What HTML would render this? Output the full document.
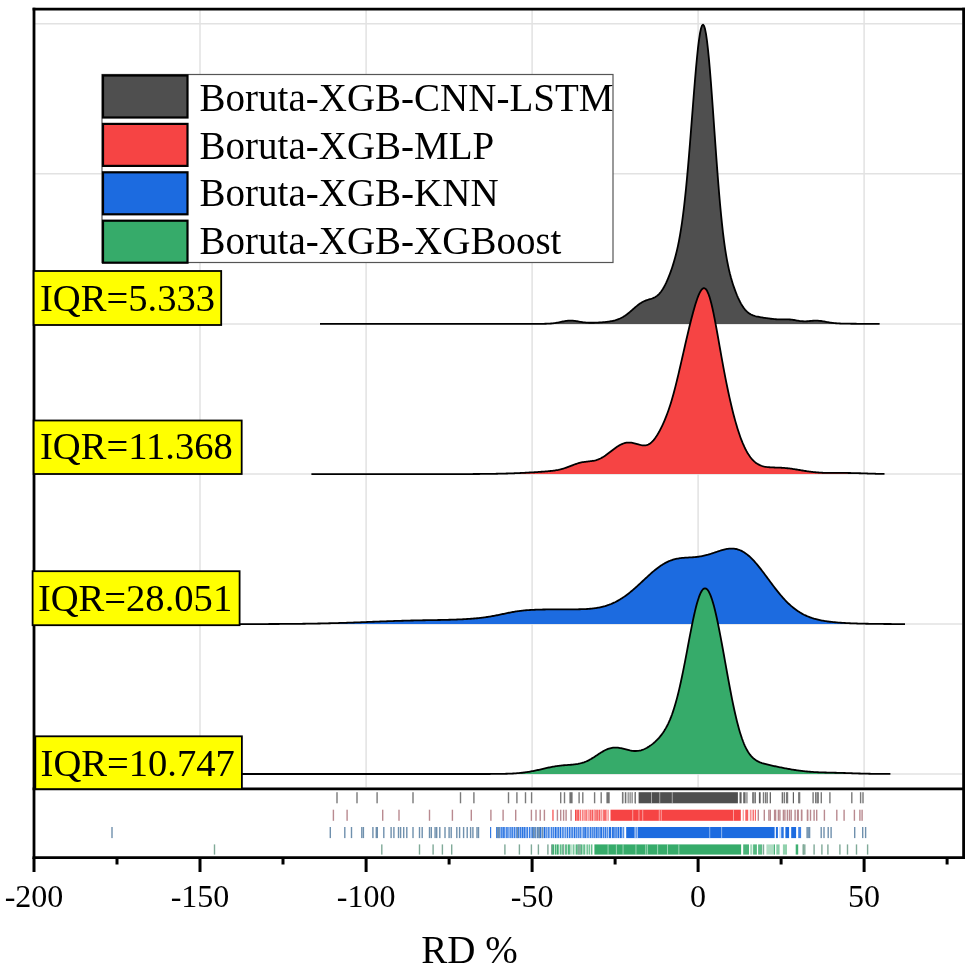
<!DOCTYPE html>
<html><head><meta charset="utf-8"><style>
html,body{margin:0;padding:0;background:#fff;}
svg{display:block;will-change:transform;}
text{font-family:"Liberation Serif", serif;}
</style></head><body>
<svg width="968" height="972" viewBox="0 0 968 972">
<rect x="0" y="0" width="968" height="972" fill="#fff"/>
<g stroke="#e2e2e2" stroke-width="1.5"><line x1="35" y1="23.8" x2="962" y2="23.8"/><line x1="35" y1="173.7" x2="962" y2="173.7"/><line x1="35" y1="324.0" x2="962" y2="324.0"/><line x1="35" y1="474.0" x2="962" y2="474.0"/><line x1="35" y1="624.0" x2="962" y2="624.0"/><line x1="35" y1="774.0" x2="962" y2="774.0"/><line x1="200.0" y1="10" x2="200.0" y2="787"/><line x1="366.1" y1="10" x2="366.1" y2="787"/><line x1="532.1" y1="10" x2="532.1" y2="787"/><line x1="698.1" y1="10" x2="698.1" y2="787"/><line x1="864.1" y1="10" x2="864.1" y2="787"/></g>
<path d="M320.0,323.90 L321.0,323.90 L322.0,323.90 L323.0,323.90 L324.0,323.90 L325.0,323.90 L326.0,323.90 L327.0,323.90 L328.0,323.90 L329.0,323.90 L330.0,323.90 L331.0,323.90 L332.0,323.90 L333.0,323.90 L334.0,323.90 L335.0,323.90 L336.0,323.90 L337.0,323.90 L338.0,323.90 L339.0,323.90 L340.0,323.90 L341.0,323.90 L342.0,323.90 L343.0,323.90 L344.0,323.90 L345.0,323.90 L346.0,323.90 L347.0,323.90 L348.0,323.90 L349.0,323.90 L350.0,323.90 L351.0,323.90 L352.0,323.90 L353.0,323.90 L354.0,323.90 L355.0,323.90 L356.0,323.90 L357.0,323.90 L358.0,323.90 L359.0,323.90 L360.0,323.90 L361.0,323.90 L362.0,323.90 L363.0,323.90 L364.0,323.90 L365.0,323.90 L366.0,323.90 L367.0,323.90 L368.0,323.90 L369.0,323.90 L370.0,323.90 L371.0,323.90 L372.0,323.90 L373.0,323.90 L374.0,323.90 L375.0,323.90 L376.0,323.90 L377.0,323.90 L378.0,323.90 L379.0,323.90 L380.0,323.90 L381.0,323.90 L382.0,323.90 L383.0,323.90 L384.0,323.90 L385.0,323.90 L386.0,323.90 L387.0,323.90 L388.0,323.90 L389.0,323.90 L390.0,323.90 L391.0,323.90 L392.0,323.90 L393.0,323.90 L394.0,323.90 L395.0,323.90 L396.0,323.90 L397.0,323.90 L398.0,323.90 L399.0,323.90 L400.0,323.90 L401.0,323.90 L402.0,323.90 L403.0,323.90 L404.0,323.90 L405.0,323.90 L406.0,323.90 L407.0,323.90 L408.0,323.90 L409.0,323.90 L410.0,323.90 L411.0,323.90 L412.0,323.90 L413.0,323.90 L414.0,323.90 L415.0,323.90 L416.0,323.90 L417.0,323.90 L418.0,323.90 L419.0,323.90 L420.0,323.90 L421.0,323.90 L422.0,323.90 L423.0,323.90 L424.0,323.90 L425.0,323.90 L426.0,323.90 L427.0,323.90 L428.0,323.90 L429.0,323.90 L430.0,323.90 L431.0,323.90 L432.0,323.90 L433.0,323.90 L434.0,323.90 L435.0,323.90 L436.0,323.90 L437.0,323.90 L438.0,323.90 L439.0,323.90 L440.0,323.90 L441.0,323.90 L442.0,323.90 L443.0,323.90 L444.0,323.90 L445.0,323.90 L446.0,323.90 L447.0,323.90 L448.0,323.90 L449.0,323.90 L450.0,323.90 L451.0,323.90 L452.0,323.90 L453.0,323.90 L454.0,323.90 L455.0,323.90 L456.0,323.90 L457.0,323.90 L458.0,323.90 L459.0,323.90 L460.0,323.90 L461.0,323.90 L462.0,323.90 L463.0,323.90 L464.0,323.90 L465.0,323.90 L466.0,323.90 L467.0,323.90 L468.0,323.90 L469.0,323.90 L470.0,323.90 L471.0,323.90 L472.0,323.90 L473.0,323.90 L474.0,323.90 L475.0,323.90 L476.0,323.90 L477.0,323.90 L478.0,323.90 L479.0,323.90 L480.0,323.90 L481.0,323.90 L482.0,323.90 L483.0,323.90 L484.0,323.90 L485.0,323.90 L486.0,323.90 L487.0,323.90 L488.0,323.90 L489.0,323.90 L490.0,323.90 L491.0,323.90 L492.0,323.90 L493.0,323.90 L494.0,323.90 L495.0,323.90 L496.0,323.90 L497.0,323.90 L498.0,323.90 L499.0,323.90 L500.0,323.90 L501.0,323.90 L502.0,323.90 L503.0,323.90 L504.0,323.90 L505.0,323.90 L506.0,323.90 L507.0,323.89 L508.0,323.89 L509.0,323.89 L510.0,323.89 L511.0,323.89 L512.0,323.89 L513.0,323.89 L514.0,323.89 L515.0,323.89 L516.0,323.89 L517.0,323.89 L518.0,323.89 L519.0,323.89 L520.0,323.89 L521.0,323.88 L522.0,323.88 L523.0,323.88 L524.0,323.88 L525.0,323.88 L526.0,323.88 L527.0,323.88 L528.0,323.87 L529.0,323.87 L530.0,323.87 L531.0,323.87 L532.0,323.87 L533.0,323.86 L534.0,323.86 L535.0,323.86 L536.0,323.85 L537.0,323.85 L538.0,323.85 L539.0,323.84 L540.0,323.83 L541.0,323.83 L542.0,323.81 L543.0,323.80 L544.0,323.79 L545.0,323.77 L546.0,323.74 L547.0,323.71 L548.0,323.67 L549.0,323.62 L550.0,323.56 L551.0,323.48 L552.0,323.40 L553.0,323.30 L554.0,323.18 L555.0,323.04 L556.0,322.89 L557.0,322.72 L558.0,322.53 L559.0,322.34 L560.0,322.13 L561.0,321.92 L562.0,321.70 L563.0,321.50 L564.0,321.30 L565.0,321.11 L566.0,320.95 L567.0,320.82 L568.0,320.71 L569.0,320.64 L570.0,320.61 L571.0,320.61 L572.0,320.65 L573.0,320.72 L574.0,320.82 L575.0,320.95 L576.0,321.10 L577.0,321.26 L578.0,321.43 L579.0,321.61 L580.0,321.78 L581.0,321.95 L582.0,322.10 L583.0,322.25 L584.0,322.37 L585.0,322.48 L586.0,322.57 L587.0,322.64 L588.0,322.70 L589.0,322.74 L590.0,322.76 L591.0,322.77 L592.0,322.77 L593.0,322.75 L594.0,322.73 L595.0,322.70 L596.0,322.66 L597.0,322.61 L598.0,322.56 L599.0,322.51 L600.0,322.44 L601.0,322.37 L602.0,322.30 L603.0,322.22 L604.0,322.13 L605.0,322.04 L606.0,321.93 L607.0,321.82 L608.0,321.69 L609.0,321.55 L610.0,321.39 L611.0,321.22 L612.0,321.03 L613.0,320.81 L614.0,320.57 L615.0,320.31 L616.0,320.01 L617.0,319.69 L618.0,319.32 L619.0,318.93 L620.0,318.49 L621.0,318.01 L622.0,317.49 L623.0,316.93 L624.0,316.32 L625.0,315.67 L626.0,314.98 L627.0,314.25 L628.0,313.48 L629.0,312.68 L630.0,311.85 L631.0,311.00 L632.0,310.14 L633.0,309.26 L634.0,308.39 L635.0,307.53 L636.0,306.67 L637.0,305.85 L638.0,305.05 L639.0,304.30 L640.0,303.59 L641.0,302.92 L642.0,302.32 L643.0,301.76 L644.0,301.26 L645.0,300.81 L646.0,300.42 L647.0,300.06 L648.0,299.73 L649.0,299.42 L650.0,299.12 L651.0,298.82 L652.0,298.49 L653.0,298.11 L654.0,297.68 L655.0,297.18 L656.0,296.58 L657.0,295.88 L658.0,295.05 L659.0,294.08 L660.0,292.98 L661.0,291.72 L662.0,290.31 L663.0,288.74 L664.0,287.01 L665.0,285.13 L666.0,283.10 L667.0,280.93 L668.0,278.61 L669.0,276.16 L670.0,273.56 L671.0,270.82 L672.0,267.92 L673.0,264.85 L674.0,261.57 L675.0,258.06 L676.0,254.27 L677.0,250.15 L678.0,245.65 L679.0,240.70 L680.0,235.24 L681.0,229.20 L682.0,222.53 L683.0,215.16 L684.0,207.05 L685.0,198.18 L686.0,188.54 L687.0,178.15 L688.0,167.06 L689.0,155.33 L690.0,143.08 L691.0,130.44 L692.0,117.59 L693.0,104.70 L694.0,92.01 L695.0,79.74 L696.0,68.15 L697.0,57.47 L698.0,47.95 L699.0,39.81 L700.0,33.26 L701.0,28.47 L702.0,25.57 L703.0,24.66 L704.0,25.76 L705.0,28.89 L706.0,33.97 L707.0,40.90 L708.0,49.54 L709.0,59.69 L710.0,71.14 L711.0,83.65 L712.0,96.96 L713.0,110.81 L714.0,124.94 L715.0,139.10 L716.0,153.07 L717.0,166.66 L718.0,179.68 L719.0,192.00 L720.0,203.53 L721.0,214.19 L722.0,223.96 L723.0,232.83 L724.0,240.83 L725.0,248.01 L726.0,254.42 L727.0,260.14 L728.0,265.26 L729.0,269.85 L730.0,273.99 L731.0,277.76 L732.0,281.21 L733.0,284.41 L734.0,287.38 L735.0,290.16 L736.0,292.78 L737.0,295.24 L738.0,297.55 L739.0,299.71 L740.0,301.73 L741.0,303.59 L742.0,305.31 L743.0,306.87 L744.0,308.28 L745.0,309.54 L746.0,310.66 L747.0,311.64 L748.0,312.50 L749.0,313.25 L750.0,313.89 L751.0,314.45 L752.0,314.92 L753.0,315.33 L754.0,315.69 L755.0,316.00 L756.0,316.27 L757.0,316.51 L758.0,316.73 L759.0,316.93 L760.0,317.11 L761.0,317.29 L762.0,317.45 L763.0,317.61 L764.0,317.77 L765.0,317.92 L766.0,318.06 L767.0,318.20 L768.0,318.34 L769.0,318.48 L770.0,318.61 L771.0,318.74 L772.0,318.86 L773.0,318.97 L774.0,319.07 L775.0,319.16 L776.0,319.24 L777.0,319.31 L778.0,319.36 L779.0,319.39 L780.0,319.41 L781.0,319.42 L782.0,319.41 L783.0,319.40 L784.0,319.38 L785.0,319.36 L786.0,319.35 L787.0,319.35 L788.0,319.37 L789.0,319.41 L790.0,319.48 L791.0,319.58 L792.0,319.70 L793.0,319.84 L794.0,320.01 L795.0,320.18 L796.0,320.37 L797.0,320.55 L798.0,320.72 L799.0,320.88 L800.0,321.02 L801.0,321.13 L802.0,321.22 L803.0,321.27 L804.0,321.30 L805.0,321.30 L806.0,321.28 L807.0,321.23 L808.0,321.17 L809.0,321.09 L810.0,321.01 L811.0,320.92 L812.0,320.84 L813.0,320.77 L814.0,320.71 L815.0,320.67 L816.0,320.66 L817.0,320.67 L818.0,320.71 L819.0,320.78 L820.0,320.87 L821.0,320.99 L822.0,321.13 L823.0,321.29 L824.0,321.46 L825.0,321.65 L826.0,321.83 L827.0,322.02 L828.0,322.20 L829.0,322.38 L830.0,322.55 L831.0,322.70 L832.0,322.84 L833.0,322.97 L834.0,323.08 L835.0,323.18 L836.0,323.26 L837.0,323.34 L838.0,323.40 L839.0,323.45 L840.0,323.50 L841.0,323.54 L842.0,323.57 L843.0,323.60 L844.0,323.62 L845.0,323.64 L846.0,323.66 L847.0,323.67 L848.0,323.69 L849.0,323.70 L850.0,323.71 L851.0,323.73 L852.0,323.74 L853.0,323.75 L854.0,323.75 L855.0,323.76 L856.0,323.77 L857.0,323.78 L858.0,323.79 L859.0,323.79 L860.0,323.80 L861.0,323.81 L862.0,323.81 L863.0,323.82 L864.0,323.82 L865.0,323.83 L866.0,323.83 L867.0,323.84 L868.0,323.84 L869.0,323.84 L870.0,323.85 L871.0,323.85 L872.0,323.85 L873.0,323.86 L874.0,323.86 L875.0,323.86 L876.0,323.86 L877.0,323.87 L878.0,323.87 L879.0,323.87 L879.6,323.87 L879.6,323.9 L320.0,323.9 Z" fill="#4f4f4f" stroke="none"/>
<path d="M320.0,323.90 L321.0,323.90 L322.0,323.90 L323.0,323.90 L324.0,323.90 L325.0,323.90 L326.0,323.90 L327.0,323.90 L328.0,323.90 L329.0,323.90 L330.0,323.90 L331.0,323.90 L332.0,323.90 L333.0,323.90 L334.0,323.90 L335.0,323.90 L336.0,323.90 L337.0,323.90 L338.0,323.90 L339.0,323.90 L340.0,323.90 L341.0,323.90 L342.0,323.90 L343.0,323.90 L344.0,323.90 L345.0,323.90 L346.0,323.90 L347.0,323.90 L348.0,323.90 L349.0,323.90 L350.0,323.90 L351.0,323.90 L352.0,323.90 L353.0,323.90 L354.0,323.90 L355.0,323.90 L356.0,323.90 L357.0,323.90 L358.0,323.90 L359.0,323.90 L360.0,323.90 L361.0,323.90 L362.0,323.90 L363.0,323.90 L364.0,323.90 L365.0,323.90 L366.0,323.90 L367.0,323.90 L368.0,323.90 L369.0,323.90 L370.0,323.90 L371.0,323.90 L372.0,323.90 L373.0,323.90 L374.0,323.90 L375.0,323.90 L376.0,323.90 L377.0,323.90 L378.0,323.90 L379.0,323.90 L380.0,323.90 L381.0,323.90 L382.0,323.90 L383.0,323.90 L384.0,323.90 L385.0,323.90 L386.0,323.90 L387.0,323.90 L388.0,323.90 L389.0,323.90 L390.0,323.90 L391.0,323.90 L392.0,323.90 L393.0,323.90 L394.0,323.90 L395.0,323.90 L396.0,323.90 L397.0,323.90 L398.0,323.90 L399.0,323.90 L400.0,323.90 L401.0,323.90 L402.0,323.90 L403.0,323.90 L404.0,323.90 L405.0,323.90 L406.0,323.90 L407.0,323.90 L408.0,323.90 L409.0,323.90 L410.0,323.90 L411.0,323.90 L412.0,323.90 L413.0,323.90 L414.0,323.90 L415.0,323.90 L416.0,323.90 L417.0,323.90 L418.0,323.90 L419.0,323.90 L420.0,323.90 L421.0,323.90 L422.0,323.90 L423.0,323.90 L424.0,323.90 L425.0,323.90 L426.0,323.90 L427.0,323.90 L428.0,323.90 L429.0,323.90 L430.0,323.90 L431.0,323.90 L432.0,323.90 L433.0,323.90 L434.0,323.90 L435.0,323.90 L436.0,323.90 L437.0,323.90 L438.0,323.90 L439.0,323.90 L440.0,323.90 L441.0,323.90 L442.0,323.90 L443.0,323.90 L444.0,323.90 L445.0,323.90 L446.0,323.90 L447.0,323.90 L448.0,323.90 L449.0,323.90 L450.0,323.90 L451.0,323.90 L452.0,323.90 L453.0,323.90 L454.0,323.90 L455.0,323.90 L456.0,323.90 L457.0,323.90 L458.0,323.90 L459.0,323.90 L460.0,323.90 L461.0,323.90 L462.0,323.90 L463.0,323.90 L464.0,323.90 L465.0,323.90 L466.0,323.90 L467.0,323.90 L468.0,323.90 L469.0,323.90 L470.0,323.90 L471.0,323.90 L472.0,323.90 L473.0,323.90 L474.0,323.90 L475.0,323.90 L476.0,323.90 L477.0,323.90 L478.0,323.90 L479.0,323.90 L480.0,323.90 L481.0,323.90 L482.0,323.90 L483.0,323.90 L484.0,323.90 L485.0,323.90 L486.0,323.90 L487.0,323.90 L488.0,323.90 L489.0,323.90 L490.0,323.90 L491.0,323.90 L492.0,323.90 L493.0,323.90 L494.0,323.90 L495.0,323.90 L496.0,323.90 L497.0,323.90 L498.0,323.90 L499.0,323.90 L500.0,323.90 L501.0,323.90 L502.0,323.90 L503.0,323.90 L504.0,323.90 L505.0,323.90 L506.0,323.90 L507.0,323.89 L508.0,323.89 L509.0,323.89 L510.0,323.89 L511.0,323.89 L512.0,323.89 L513.0,323.89 L514.0,323.89 L515.0,323.89 L516.0,323.89 L517.0,323.89 L518.0,323.89 L519.0,323.89 L520.0,323.89 L521.0,323.88 L522.0,323.88 L523.0,323.88 L524.0,323.88 L525.0,323.88 L526.0,323.88 L527.0,323.88 L528.0,323.87 L529.0,323.87 L530.0,323.87 L531.0,323.87 L532.0,323.87 L533.0,323.86 L534.0,323.86 L535.0,323.86 L536.0,323.85 L537.0,323.85 L538.0,323.85 L539.0,323.84 L540.0,323.83 L541.0,323.83 L542.0,323.81 L543.0,323.80 L544.0,323.79 L545.0,323.77 L546.0,323.74 L547.0,323.71 L548.0,323.67 L549.0,323.62 L550.0,323.56 L551.0,323.48 L552.0,323.40 L553.0,323.30 L554.0,323.18 L555.0,323.04 L556.0,322.89 L557.0,322.72 L558.0,322.53 L559.0,322.34 L560.0,322.13 L561.0,321.92 L562.0,321.70 L563.0,321.50 L564.0,321.30 L565.0,321.11 L566.0,320.95 L567.0,320.82 L568.0,320.71 L569.0,320.64 L570.0,320.61 L571.0,320.61 L572.0,320.65 L573.0,320.72 L574.0,320.82 L575.0,320.95 L576.0,321.10 L577.0,321.26 L578.0,321.43 L579.0,321.61 L580.0,321.78 L581.0,321.95 L582.0,322.10 L583.0,322.25 L584.0,322.37 L585.0,322.48 L586.0,322.57 L587.0,322.64 L588.0,322.70 L589.0,322.74 L590.0,322.76 L591.0,322.77 L592.0,322.77 L593.0,322.75 L594.0,322.73 L595.0,322.70 L596.0,322.66 L597.0,322.61 L598.0,322.56 L599.0,322.51 L600.0,322.44 L601.0,322.37 L602.0,322.30 L603.0,322.22 L604.0,322.13 L605.0,322.04 L606.0,321.93 L607.0,321.82 L608.0,321.69 L609.0,321.55 L610.0,321.39 L611.0,321.22 L612.0,321.03 L613.0,320.81 L614.0,320.57 L615.0,320.31 L616.0,320.01 L617.0,319.69 L618.0,319.32 L619.0,318.93 L620.0,318.49 L621.0,318.01 L622.0,317.49 L623.0,316.93 L624.0,316.32 L625.0,315.67 L626.0,314.98 L627.0,314.25 L628.0,313.48 L629.0,312.68 L630.0,311.85 L631.0,311.00 L632.0,310.14 L633.0,309.26 L634.0,308.39 L635.0,307.53 L636.0,306.67 L637.0,305.85 L638.0,305.05 L639.0,304.30 L640.0,303.59 L641.0,302.92 L642.0,302.32 L643.0,301.76 L644.0,301.26 L645.0,300.81 L646.0,300.42 L647.0,300.06 L648.0,299.73 L649.0,299.42 L650.0,299.12 L651.0,298.82 L652.0,298.49 L653.0,298.11 L654.0,297.68 L655.0,297.18 L656.0,296.58 L657.0,295.88 L658.0,295.05 L659.0,294.08 L660.0,292.98 L661.0,291.72 L662.0,290.31 L663.0,288.74 L664.0,287.01 L665.0,285.13 L666.0,283.10 L667.0,280.93 L668.0,278.61 L669.0,276.16 L670.0,273.56 L671.0,270.82 L672.0,267.92 L673.0,264.85 L674.0,261.57 L675.0,258.06 L676.0,254.27 L677.0,250.15 L678.0,245.65 L679.0,240.70 L680.0,235.24 L681.0,229.20 L682.0,222.53 L683.0,215.16 L684.0,207.05 L685.0,198.18 L686.0,188.54 L687.0,178.15 L688.0,167.06 L689.0,155.33 L690.0,143.08 L691.0,130.44 L692.0,117.59 L693.0,104.70 L694.0,92.01 L695.0,79.74 L696.0,68.15 L697.0,57.47 L698.0,47.95 L699.0,39.81 L700.0,33.26 L701.0,28.47 L702.0,25.57 L703.0,24.66 L704.0,25.76 L705.0,28.89 L706.0,33.97 L707.0,40.90 L708.0,49.54 L709.0,59.69 L710.0,71.14 L711.0,83.65 L712.0,96.96 L713.0,110.81 L714.0,124.94 L715.0,139.10 L716.0,153.07 L717.0,166.66 L718.0,179.68 L719.0,192.00 L720.0,203.53 L721.0,214.19 L722.0,223.96 L723.0,232.83 L724.0,240.83 L725.0,248.01 L726.0,254.42 L727.0,260.14 L728.0,265.26 L729.0,269.85 L730.0,273.99 L731.0,277.76 L732.0,281.21 L733.0,284.41 L734.0,287.38 L735.0,290.16 L736.0,292.78 L737.0,295.24 L738.0,297.55 L739.0,299.71 L740.0,301.73 L741.0,303.59 L742.0,305.31 L743.0,306.87 L744.0,308.28 L745.0,309.54 L746.0,310.66 L747.0,311.64 L748.0,312.50 L749.0,313.25 L750.0,313.89 L751.0,314.45 L752.0,314.92 L753.0,315.33 L754.0,315.69 L755.0,316.00 L756.0,316.27 L757.0,316.51 L758.0,316.73 L759.0,316.93 L760.0,317.11 L761.0,317.29 L762.0,317.45 L763.0,317.61 L764.0,317.77 L765.0,317.92 L766.0,318.06 L767.0,318.20 L768.0,318.34 L769.0,318.48 L770.0,318.61 L771.0,318.74 L772.0,318.86 L773.0,318.97 L774.0,319.07 L775.0,319.16 L776.0,319.24 L777.0,319.31 L778.0,319.36 L779.0,319.39 L780.0,319.41 L781.0,319.42 L782.0,319.41 L783.0,319.40 L784.0,319.38 L785.0,319.36 L786.0,319.35 L787.0,319.35 L788.0,319.37 L789.0,319.41 L790.0,319.48 L791.0,319.58 L792.0,319.70 L793.0,319.84 L794.0,320.01 L795.0,320.18 L796.0,320.37 L797.0,320.55 L798.0,320.72 L799.0,320.88 L800.0,321.02 L801.0,321.13 L802.0,321.22 L803.0,321.27 L804.0,321.30 L805.0,321.30 L806.0,321.28 L807.0,321.23 L808.0,321.17 L809.0,321.09 L810.0,321.01 L811.0,320.92 L812.0,320.84 L813.0,320.77 L814.0,320.71 L815.0,320.67 L816.0,320.66 L817.0,320.67 L818.0,320.71 L819.0,320.78 L820.0,320.87 L821.0,320.99 L822.0,321.13 L823.0,321.29 L824.0,321.46 L825.0,321.65 L826.0,321.83 L827.0,322.02 L828.0,322.20 L829.0,322.38 L830.0,322.55 L831.0,322.70 L832.0,322.84 L833.0,322.97 L834.0,323.08 L835.0,323.18 L836.0,323.26 L837.0,323.34 L838.0,323.40 L839.0,323.45 L840.0,323.50 L841.0,323.54 L842.0,323.57 L843.0,323.60 L844.0,323.62 L845.0,323.64 L846.0,323.66 L847.0,323.67 L848.0,323.69 L849.0,323.70 L850.0,323.71 L851.0,323.73 L852.0,323.74 L853.0,323.75 L854.0,323.75 L855.0,323.76 L856.0,323.77 L857.0,323.78 L858.0,323.79 L859.0,323.79 L860.0,323.80 L861.0,323.81 L862.0,323.81 L863.0,323.82 L864.0,323.82 L865.0,323.83 L866.0,323.83 L867.0,323.84 L868.0,323.84 L869.0,323.84 L870.0,323.85 L871.0,323.85 L872.0,323.85 L873.0,323.86 L874.0,323.86 L875.0,323.86 L876.0,323.86 L877.0,323.87 L878.0,323.87 L879.0,323.87 L879.6,323.87" fill="none" stroke="#000" stroke-width="1.8" stroke-linejoin="round"/>
<path d="M311.4,474.10 L312.4,474.10 L313.4,474.10 L314.4,474.10 L315.4,474.10 L316.4,474.10 L317.4,474.10 L318.4,474.10 L319.4,474.10 L320.4,474.10 L321.4,474.10 L322.4,474.10 L323.4,474.10 L324.4,474.10 L325.4,474.10 L326.4,474.10 L327.4,474.10 L328.4,474.10 L329.4,474.10 L330.4,474.10 L331.4,474.10 L332.4,474.10 L333.4,474.10 L334.4,474.10 L335.4,474.10 L336.4,474.10 L337.4,474.10 L338.4,474.10 L339.4,474.10 L340.4,474.10 L341.4,474.10 L342.4,474.10 L343.4,474.10 L344.4,474.10 L345.4,474.10 L346.4,474.10 L347.4,474.10 L348.4,474.10 L349.4,474.10 L350.4,474.10 L351.4,474.10 L352.4,474.10 L353.4,474.10 L354.4,474.10 L355.4,474.10 L356.4,474.10 L357.4,474.10 L358.4,474.10 L359.4,474.10 L360.4,474.10 L361.4,474.10 L362.4,474.10 L363.4,474.10 L364.4,474.10 L365.4,474.10 L366.4,474.10 L367.4,474.10 L368.4,474.10 L369.4,474.10 L370.4,474.10 L371.4,474.10 L372.4,474.10 L373.4,474.10 L374.4,474.10 L375.4,474.10 L376.4,474.10 L377.4,474.10 L378.4,474.10 L379.4,474.10 L380.4,474.10 L381.4,474.10 L382.4,474.10 L383.4,474.10 L384.4,474.10 L385.4,474.10 L386.4,474.10 L387.4,474.10 L388.4,474.10 L389.4,474.10 L390.4,474.10 L391.4,474.10 L392.4,474.10 L393.4,474.10 L394.4,474.10 L395.4,474.10 L396.4,474.10 L397.4,474.10 L398.4,474.10 L399.4,474.10 L400.4,474.10 L401.4,474.10 L402.4,474.10 L403.4,474.10 L404.4,474.10 L405.4,474.10 L406.4,474.10 L407.4,474.10 L408.4,474.10 L409.4,474.10 L410.4,474.10 L411.4,474.10 L412.4,474.10 L413.4,474.10 L414.4,474.10 L415.4,474.10 L416.4,474.10 L417.4,474.10 L418.4,474.10 L419.4,474.10 L420.4,474.10 L421.4,474.10 L422.4,474.10 L423.4,474.10 L424.4,474.10 L425.4,474.10 L426.4,474.10 L427.4,474.10 L428.4,474.10 L429.4,474.10 L430.4,474.10 L431.4,474.10 L432.4,474.10 L433.4,474.10 L434.4,474.10 L435.4,474.10 L436.4,474.10 L437.4,474.10 L438.4,474.10 L439.4,474.10 L440.4,474.09 L441.4,474.09 L442.4,474.09 L443.4,474.09 L444.4,474.09 L445.4,474.09 L446.4,474.09 L447.4,474.09 L448.4,474.09 L449.4,474.09 L450.4,474.09 L451.4,474.09 L452.4,474.08 L453.4,474.08 L454.4,474.08 L455.4,474.08 L456.4,474.08 L457.4,474.08 L458.4,474.08 L459.4,474.07 L460.4,474.07 L461.4,474.07 L462.4,474.07 L463.4,474.06 L464.4,474.06 L465.4,474.06 L466.4,474.05 L467.4,474.05 L468.4,474.05 L469.4,474.04 L470.4,474.04 L471.4,474.03 L472.4,474.03 L473.4,474.02 L474.4,474.02 L475.4,474.01 L476.4,474.00 L477.4,474.00 L478.4,473.99 L479.4,473.98 L480.4,473.97 L481.4,473.96 L482.4,473.95 L483.4,473.94 L484.4,473.93 L485.4,473.92 L486.4,473.91 L487.4,473.90 L488.4,473.89 L489.4,473.87 L490.4,473.86 L491.4,473.84 L492.4,473.83 L493.4,473.81 L494.4,473.79 L495.4,473.78 L496.4,473.76 L497.4,473.74 L498.4,473.72 L499.4,473.69 L500.4,473.67 L501.4,473.65 L502.4,473.62 L503.4,473.60 L504.4,473.57 L505.4,473.54 L506.4,473.51 L507.4,473.48 L508.4,473.45 L509.4,473.42 L510.4,473.39 L511.4,473.35 L512.4,473.31 L513.4,473.28 L514.4,473.24 L515.4,473.20 L516.4,473.16 L517.4,473.12 L518.4,473.07 L519.4,473.03 L520.4,472.98 L521.4,472.94 L522.4,472.89 L523.4,472.84 L524.4,472.79 L525.4,472.74 L526.4,472.69 L527.4,472.63 L528.4,472.58 L529.4,472.52 L530.4,472.46 L531.4,472.41 L532.4,472.35 L533.4,472.29 L534.4,472.23 L535.4,472.16 L536.4,472.10 L537.4,472.04 L538.4,471.97 L539.4,471.91 L540.4,471.84 L541.4,471.77 L542.4,471.70 L543.4,471.63 L544.4,471.55 L545.4,471.47 L546.4,471.39 L547.4,471.31 L548.4,471.22 L549.4,471.12 L550.4,471.02 L551.4,470.91 L552.4,470.79 L553.4,470.67 L554.4,470.53 L555.4,470.38 L556.4,470.21 L557.4,470.03 L558.4,469.84 L559.4,469.62 L560.4,469.39 L561.4,469.13 L562.4,468.86 L563.4,468.57 L564.4,468.26 L565.4,467.93 L566.4,467.58 L567.4,467.22 L568.4,466.85 L569.4,466.46 L570.4,466.07 L571.4,465.68 L572.4,465.29 L573.4,464.90 L574.4,464.52 L575.4,464.16 L576.4,463.81 L577.4,463.49 L578.4,463.18 L579.4,462.91 L580.4,462.65 L581.4,462.43 L582.4,462.23 L583.4,462.06 L584.4,461.90 L585.4,461.77 L586.4,461.65 L587.4,461.54 L588.4,461.43 L589.4,461.33 L590.4,461.21 L591.4,461.08 L592.4,460.93 L593.4,460.76 L594.4,460.55 L595.4,460.31 L596.4,460.03 L597.4,459.71 L598.4,459.34 L599.4,458.93 L600.4,458.47 L601.4,457.97 L602.4,457.41 L603.4,456.82 L604.4,456.19 L605.4,455.52 L606.4,454.81 L607.4,454.08 L608.4,453.33 L609.4,452.56 L610.4,451.78 L611.4,451.00 L612.4,450.22 L613.4,449.45 L614.4,448.69 L615.4,447.96 L616.4,447.25 L617.4,446.57 L618.4,445.94 L619.4,445.34 L620.4,444.80 L621.4,444.31 L622.4,443.87 L623.4,443.49 L624.4,443.18 L625.4,442.92 L626.4,442.73 L627.4,442.61 L628.4,442.54 L629.4,442.54 L630.4,442.60 L631.4,442.71 L632.4,442.86 L633.4,443.07 L634.4,443.30 L635.4,443.57 L636.4,443.86 L637.4,444.15 L638.4,444.45 L639.4,444.73 L640.4,444.98 L641.4,445.19 L642.4,445.35 L643.4,445.45 L644.4,445.46 L645.4,445.38 L646.4,445.19 L647.4,444.89 L648.4,444.46 L649.4,443.90 L650.4,443.21 L651.4,442.38 L652.4,441.42 L653.4,440.33 L654.4,439.10 L655.4,437.75 L656.4,436.29 L657.4,434.71 L658.4,433.04 L659.4,431.26 L660.4,429.38 L661.4,427.40 L662.4,425.33 L663.4,423.15 L664.4,420.87 L665.4,418.47 L666.4,415.94 L667.4,413.28 L668.4,410.48 L669.4,407.53 L670.4,404.43 L671.4,401.17 L672.4,397.76 L673.4,394.19 L674.4,390.47 L675.4,386.62 L676.4,382.64 L677.4,378.54 L678.4,374.35 L679.4,370.08 L680.4,365.75 L681.4,361.38 L682.4,356.98 L683.4,352.58 L684.4,348.18 L685.4,343.81 L686.4,339.48 L687.4,335.20 L688.4,330.98 L689.4,326.83 L690.4,322.78 L691.4,318.82 L692.4,314.99 L693.4,311.28 L694.4,307.73 L695.4,304.36 L696.4,301.19 L697.4,298.28 L698.4,295.64 L699.4,293.33 L700.4,291.39 L701.4,289.87 L702.4,288.81 L703.4,288.24 L704.4,288.21 L705.4,288.73 L706.4,289.83 L707.4,291.52 L708.4,293.77 L709.4,296.59 L710.4,299.92 L711.4,303.75 L712.4,308.01 L713.4,312.64 L714.4,317.60 L715.4,322.82 L716.4,328.23 L717.4,333.78 L718.4,339.41 L719.4,345.07 L720.4,350.72 L721.4,356.33 L722.4,361.87 L723.4,367.30 L724.4,372.62 L725.4,377.80 L726.4,382.85 L727.4,387.75 L728.4,392.50 L729.4,397.10 L730.4,401.54 L731.4,405.82 L732.4,409.95 L733.4,413.91 L734.4,417.72 L735.4,421.37 L736.4,424.85 L737.4,428.18 L738.4,431.34 L739.4,434.34 L740.4,437.18 L741.4,439.85 L742.4,442.38 L743.4,444.74 L744.4,446.95 L745.4,449.01 L746.4,450.93 L747.4,452.70 L748.4,454.34 L749.4,455.84 L750.4,457.22 L751.4,458.47 L752.4,459.62 L753.4,460.65 L754.4,461.58 L755.4,462.41 L756.4,463.16 L757.4,463.82 L758.4,464.40 L759.4,464.91 L760.4,465.35 L761.4,465.74 L762.4,466.06 L763.4,466.34 L764.4,466.58 L765.4,466.78 L766.4,466.94 L767.4,467.07 L768.4,467.18 L769.4,467.27 L770.4,467.34 L771.4,467.39 L772.4,467.44 L773.4,467.47 L774.4,467.50 L775.4,467.53 L776.4,467.56 L777.4,467.59 L778.4,467.62 L779.4,467.66 L780.4,467.70 L781.4,467.75 L782.4,467.81 L783.4,467.87 L784.4,467.95 L785.4,468.03 L786.4,468.13 L787.4,468.23 L788.4,468.34 L789.4,468.46 L790.4,468.59 L791.4,468.73 L792.4,468.87 L793.4,469.02 L794.4,469.18 L795.4,469.34 L796.4,469.50 L797.4,469.67 L798.4,469.83 L799.4,470.00 L800.4,470.18 L801.4,470.35 L802.4,470.51 L803.4,470.68 L804.4,470.84 L805.4,471.00 L806.4,471.16 L807.4,471.31 L808.4,471.45 L809.4,471.59 L810.4,471.72 L811.4,471.85 L812.4,471.96 L813.4,472.07 L814.4,472.18 L815.4,472.27 L816.4,472.36 L817.4,472.44 L818.4,472.52 L819.4,472.58 L820.4,472.64 L821.4,472.69 L822.4,472.74 L823.4,472.78 L824.4,472.81 L825.4,472.84 L826.4,472.87 L827.4,472.89 L828.4,472.90 L829.4,472.91 L830.4,472.92 L831.4,472.93 L832.4,472.93 L833.4,472.93 L834.4,472.93 L835.4,472.93 L836.4,472.93 L837.4,472.93 L838.4,472.93 L839.4,472.93 L840.4,472.93 L841.4,472.93 L842.4,472.93 L843.4,472.93 L844.4,472.94 L845.4,472.95 L846.4,472.95 L847.4,472.97 L848.4,472.98 L849.4,472.99 L850.4,473.01 L851.4,473.03 L852.4,473.05 L853.4,473.07 L854.4,473.10 L855.4,473.12 L856.4,473.15 L857.4,473.18 L858.4,473.21 L859.4,473.24 L860.4,473.27 L861.4,473.30 L862.4,473.34 L863.4,473.37 L864.4,473.41 L865.4,473.44 L866.4,473.47 L867.4,473.51 L868.4,473.54 L869.4,473.57 L870.4,473.60 L871.4,473.64 L872.4,473.67 L873.4,473.70 L874.4,473.72 L875.4,473.75 L876.4,473.78 L877.4,473.80 L878.4,473.83 L879.4,473.85 L880.4,473.87 L881.4,473.89 L882.4,473.91 L883.4,473.93 L884.4,473.94 L884.5,473.94 L884.5,474.1 L311.4,474.1 Z" fill="#f64444" stroke="none"/>
<path d="M311.4,474.10 L312.4,474.10 L313.4,474.10 L314.4,474.10 L315.4,474.10 L316.4,474.10 L317.4,474.10 L318.4,474.10 L319.4,474.10 L320.4,474.10 L321.4,474.10 L322.4,474.10 L323.4,474.10 L324.4,474.10 L325.4,474.10 L326.4,474.10 L327.4,474.10 L328.4,474.10 L329.4,474.10 L330.4,474.10 L331.4,474.10 L332.4,474.10 L333.4,474.10 L334.4,474.10 L335.4,474.10 L336.4,474.10 L337.4,474.10 L338.4,474.10 L339.4,474.10 L340.4,474.10 L341.4,474.10 L342.4,474.10 L343.4,474.10 L344.4,474.10 L345.4,474.10 L346.4,474.10 L347.4,474.10 L348.4,474.10 L349.4,474.10 L350.4,474.10 L351.4,474.10 L352.4,474.10 L353.4,474.10 L354.4,474.10 L355.4,474.10 L356.4,474.10 L357.4,474.10 L358.4,474.10 L359.4,474.10 L360.4,474.10 L361.4,474.10 L362.4,474.10 L363.4,474.10 L364.4,474.10 L365.4,474.10 L366.4,474.10 L367.4,474.10 L368.4,474.10 L369.4,474.10 L370.4,474.10 L371.4,474.10 L372.4,474.10 L373.4,474.10 L374.4,474.10 L375.4,474.10 L376.4,474.10 L377.4,474.10 L378.4,474.10 L379.4,474.10 L380.4,474.10 L381.4,474.10 L382.4,474.10 L383.4,474.10 L384.4,474.10 L385.4,474.10 L386.4,474.10 L387.4,474.10 L388.4,474.10 L389.4,474.10 L390.4,474.10 L391.4,474.10 L392.4,474.10 L393.4,474.10 L394.4,474.10 L395.4,474.10 L396.4,474.10 L397.4,474.10 L398.4,474.10 L399.4,474.10 L400.4,474.10 L401.4,474.10 L402.4,474.10 L403.4,474.10 L404.4,474.10 L405.4,474.10 L406.4,474.10 L407.4,474.10 L408.4,474.10 L409.4,474.10 L410.4,474.10 L411.4,474.10 L412.4,474.10 L413.4,474.10 L414.4,474.10 L415.4,474.10 L416.4,474.10 L417.4,474.10 L418.4,474.10 L419.4,474.10 L420.4,474.10 L421.4,474.10 L422.4,474.10 L423.4,474.10 L424.4,474.10 L425.4,474.10 L426.4,474.10 L427.4,474.10 L428.4,474.10 L429.4,474.10 L430.4,474.10 L431.4,474.10 L432.4,474.10 L433.4,474.10 L434.4,474.10 L435.4,474.10 L436.4,474.10 L437.4,474.10 L438.4,474.10 L439.4,474.10 L440.4,474.09 L441.4,474.09 L442.4,474.09 L443.4,474.09 L444.4,474.09 L445.4,474.09 L446.4,474.09 L447.4,474.09 L448.4,474.09 L449.4,474.09 L450.4,474.09 L451.4,474.09 L452.4,474.08 L453.4,474.08 L454.4,474.08 L455.4,474.08 L456.4,474.08 L457.4,474.08 L458.4,474.08 L459.4,474.07 L460.4,474.07 L461.4,474.07 L462.4,474.07 L463.4,474.06 L464.4,474.06 L465.4,474.06 L466.4,474.05 L467.4,474.05 L468.4,474.05 L469.4,474.04 L470.4,474.04 L471.4,474.03 L472.4,474.03 L473.4,474.02 L474.4,474.02 L475.4,474.01 L476.4,474.00 L477.4,474.00 L478.4,473.99 L479.4,473.98 L480.4,473.97 L481.4,473.96 L482.4,473.95 L483.4,473.94 L484.4,473.93 L485.4,473.92 L486.4,473.91 L487.4,473.90 L488.4,473.89 L489.4,473.87 L490.4,473.86 L491.4,473.84 L492.4,473.83 L493.4,473.81 L494.4,473.79 L495.4,473.78 L496.4,473.76 L497.4,473.74 L498.4,473.72 L499.4,473.69 L500.4,473.67 L501.4,473.65 L502.4,473.62 L503.4,473.60 L504.4,473.57 L505.4,473.54 L506.4,473.51 L507.4,473.48 L508.4,473.45 L509.4,473.42 L510.4,473.39 L511.4,473.35 L512.4,473.31 L513.4,473.28 L514.4,473.24 L515.4,473.20 L516.4,473.16 L517.4,473.12 L518.4,473.07 L519.4,473.03 L520.4,472.98 L521.4,472.94 L522.4,472.89 L523.4,472.84 L524.4,472.79 L525.4,472.74 L526.4,472.69 L527.4,472.63 L528.4,472.58 L529.4,472.52 L530.4,472.46 L531.4,472.41 L532.4,472.35 L533.4,472.29 L534.4,472.23 L535.4,472.16 L536.4,472.10 L537.4,472.04 L538.4,471.97 L539.4,471.91 L540.4,471.84 L541.4,471.77 L542.4,471.70 L543.4,471.63 L544.4,471.55 L545.4,471.47 L546.4,471.39 L547.4,471.31 L548.4,471.22 L549.4,471.12 L550.4,471.02 L551.4,470.91 L552.4,470.79 L553.4,470.67 L554.4,470.53 L555.4,470.38 L556.4,470.21 L557.4,470.03 L558.4,469.84 L559.4,469.62 L560.4,469.39 L561.4,469.13 L562.4,468.86 L563.4,468.57 L564.4,468.26 L565.4,467.93 L566.4,467.58 L567.4,467.22 L568.4,466.85 L569.4,466.46 L570.4,466.07 L571.4,465.68 L572.4,465.29 L573.4,464.90 L574.4,464.52 L575.4,464.16 L576.4,463.81 L577.4,463.49 L578.4,463.18 L579.4,462.91 L580.4,462.65 L581.4,462.43 L582.4,462.23 L583.4,462.06 L584.4,461.90 L585.4,461.77 L586.4,461.65 L587.4,461.54 L588.4,461.43 L589.4,461.33 L590.4,461.21 L591.4,461.08 L592.4,460.93 L593.4,460.76 L594.4,460.55 L595.4,460.31 L596.4,460.03 L597.4,459.71 L598.4,459.34 L599.4,458.93 L600.4,458.47 L601.4,457.97 L602.4,457.41 L603.4,456.82 L604.4,456.19 L605.4,455.52 L606.4,454.81 L607.4,454.08 L608.4,453.33 L609.4,452.56 L610.4,451.78 L611.4,451.00 L612.4,450.22 L613.4,449.45 L614.4,448.69 L615.4,447.96 L616.4,447.25 L617.4,446.57 L618.4,445.94 L619.4,445.34 L620.4,444.80 L621.4,444.31 L622.4,443.87 L623.4,443.49 L624.4,443.18 L625.4,442.92 L626.4,442.73 L627.4,442.61 L628.4,442.54 L629.4,442.54 L630.4,442.60 L631.4,442.71 L632.4,442.86 L633.4,443.07 L634.4,443.30 L635.4,443.57 L636.4,443.86 L637.4,444.15 L638.4,444.45 L639.4,444.73 L640.4,444.98 L641.4,445.19 L642.4,445.35 L643.4,445.45 L644.4,445.46 L645.4,445.38 L646.4,445.19 L647.4,444.89 L648.4,444.46 L649.4,443.90 L650.4,443.21 L651.4,442.38 L652.4,441.42 L653.4,440.33 L654.4,439.10 L655.4,437.75 L656.4,436.29 L657.4,434.71 L658.4,433.04 L659.4,431.26 L660.4,429.38 L661.4,427.40 L662.4,425.33 L663.4,423.15 L664.4,420.87 L665.4,418.47 L666.4,415.94 L667.4,413.28 L668.4,410.48 L669.4,407.53 L670.4,404.43 L671.4,401.17 L672.4,397.76 L673.4,394.19 L674.4,390.47 L675.4,386.62 L676.4,382.64 L677.4,378.54 L678.4,374.35 L679.4,370.08 L680.4,365.75 L681.4,361.38 L682.4,356.98 L683.4,352.58 L684.4,348.18 L685.4,343.81 L686.4,339.48 L687.4,335.20 L688.4,330.98 L689.4,326.83 L690.4,322.78 L691.4,318.82 L692.4,314.99 L693.4,311.28 L694.4,307.73 L695.4,304.36 L696.4,301.19 L697.4,298.28 L698.4,295.64 L699.4,293.33 L700.4,291.39 L701.4,289.87 L702.4,288.81 L703.4,288.24 L704.4,288.21 L705.4,288.73 L706.4,289.83 L707.4,291.52 L708.4,293.77 L709.4,296.59 L710.4,299.92 L711.4,303.75 L712.4,308.01 L713.4,312.64 L714.4,317.60 L715.4,322.82 L716.4,328.23 L717.4,333.78 L718.4,339.41 L719.4,345.07 L720.4,350.72 L721.4,356.33 L722.4,361.87 L723.4,367.30 L724.4,372.62 L725.4,377.80 L726.4,382.85 L727.4,387.75 L728.4,392.50 L729.4,397.10 L730.4,401.54 L731.4,405.82 L732.4,409.95 L733.4,413.91 L734.4,417.72 L735.4,421.37 L736.4,424.85 L737.4,428.18 L738.4,431.34 L739.4,434.34 L740.4,437.18 L741.4,439.85 L742.4,442.38 L743.4,444.74 L744.4,446.95 L745.4,449.01 L746.4,450.93 L747.4,452.70 L748.4,454.34 L749.4,455.84 L750.4,457.22 L751.4,458.47 L752.4,459.62 L753.4,460.65 L754.4,461.58 L755.4,462.41 L756.4,463.16 L757.4,463.82 L758.4,464.40 L759.4,464.91 L760.4,465.35 L761.4,465.74 L762.4,466.06 L763.4,466.34 L764.4,466.58 L765.4,466.78 L766.4,466.94 L767.4,467.07 L768.4,467.18 L769.4,467.27 L770.4,467.34 L771.4,467.39 L772.4,467.44 L773.4,467.47 L774.4,467.50 L775.4,467.53 L776.4,467.56 L777.4,467.59 L778.4,467.62 L779.4,467.66 L780.4,467.70 L781.4,467.75 L782.4,467.81 L783.4,467.87 L784.4,467.95 L785.4,468.03 L786.4,468.13 L787.4,468.23 L788.4,468.34 L789.4,468.46 L790.4,468.59 L791.4,468.73 L792.4,468.87 L793.4,469.02 L794.4,469.18 L795.4,469.34 L796.4,469.50 L797.4,469.67 L798.4,469.83 L799.4,470.00 L800.4,470.18 L801.4,470.35 L802.4,470.51 L803.4,470.68 L804.4,470.84 L805.4,471.00 L806.4,471.16 L807.4,471.31 L808.4,471.45 L809.4,471.59 L810.4,471.72 L811.4,471.85 L812.4,471.96 L813.4,472.07 L814.4,472.18 L815.4,472.27 L816.4,472.36 L817.4,472.44 L818.4,472.52 L819.4,472.58 L820.4,472.64 L821.4,472.69 L822.4,472.74 L823.4,472.78 L824.4,472.81 L825.4,472.84 L826.4,472.87 L827.4,472.89 L828.4,472.90 L829.4,472.91 L830.4,472.92 L831.4,472.93 L832.4,472.93 L833.4,472.93 L834.4,472.93 L835.4,472.93 L836.4,472.93 L837.4,472.93 L838.4,472.93 L839.4,472.93 L840.4,472.93 L841.4,472.93 L842.4,472.93 L843.4,472.93 L844.4,472.94 L845.4,472.95 L846.4,472.95 L847.4,472.97 L848.4,472.98 L849.4,472.99 L850.4,473.01 L851.4,473.03 L852.4,473.05 L853.4,473.07 L854.4,473.10 L855.4,473.12 L856.4,473.15 L857.4,473.18 L858.4,473.21 L859.4,473.24 L860.4,473.27 L861.4,473.30 L862.4,473.34 L863.4,473.37 L864.4,473.41 L865.4,473.44 L866.4,473.47 L867.4,473.51 L868.4,473.54 L869.4,473.57 L870.4,473.60 L871.4,473.64 L872.4,473.67 L873.4,473.70 L874.4,473.72 L875.4,473.75 L876.4,473.78 L877.4,473.80 L878.4,473.83 L879.4,473.85 L880.4,473.87 L881.4,473.89 L882.4,473.91 L883.4,473.93 L884.4,473.94 L884.5,473.94" fill="none" stroke="#000" stroke-width="1.8" stroke-linejoin="round"/>
<path d="M110.0,624.10 L111.0,624.10 L112.0,624.10 L113.0,624.10 L114.0,624.10 L115.0,624.10 L116.0,624.10 L117.0,624.10 L118.0,624.10 L119.0,624.10 L120.0,624.10 L121.0,624.10 L122.0,624.10 L123.0,624.10 L124.0,624.10 L125.0,624.10 L126.0,624.10 L127.0,624.10 L128.0,624.10 L129.0,624.10 L130.0,624.10 L131.0,624.10 L132.0,624.10 L133.0,624.10 L134.0,624.10 L135.0,624.10 L136.0,624.10 L137.0,624.10 L138.0,624.10 L139.0,624.10 L140.0,624.10 L141.0,624.10 L142.0,624.10 L143.0,624.10 L144.0,624.10 L145.0,624.10 L146.0,624.10 L147.0,624.10 L148.0,624.10 L149.0,624.10 L150.0,624.10 L151.0,624.10 L152.0,624.10 L153.0,624.10 L154.0,624.10 L155.0,624.10 L156.0,624.10 L157.0,624.10 L158.0,624.10 L159.0,624.10 L160.0,624.10 L161.0,624.10 L162.0,624.10 L163.0,624.10 L164.0,624.10 L165.0,624.10 L166.0,624.10 L167.0,624.10 L168.0,624.10 L169.0,624.10 L170.0,624.10 L171.0,624.10 L172.0,624.10 L173.0,624.10 L174.0,624.10 L175.0,624.10 L176.0,624.10 L177.0,624.10 L178.0,624.10 L179.0,624.10 L180.0,624.10 L181.0,624.10 L182.0,624.10 L183.0,624.10 L184.0,624.10 L185.0,624.10 L186.0,624.10 L187.0,624.10 L188.0,624.10 L189.0,624.10 L190.0,624.10 L191.0,624.10 L192.0,624.10 L193.0,624.10 L194.0,624.10 L195.0,624.10 L196.0,624.10 L197.0,624.10 L198.0,624.10 L199.0,624.10 L200.0,624.10 L201.0,624.10 L202.0,624.10 L203.0,624.10 L204.0,624.10 L205.0,624.10 L206.0,624.10 L207.0,624.10 L208.0,624.10 L209.0,624.10 L210.0,624.10 L211.0,624.10 L212.0,624.10 L213.0,624.10 L214.0,624.10 L215.0,624.10 L216.0,624.10 L217.0,624.10 L218.0,624.10 L219.0,624.10 L220.0,624.10 L221.0,624.10 L222.0,624.09 L223.0,624.09 L224.0,624.09 L225.0,624.09 L226.0,624.09 L227.0,624.09 L228.0,624.09 L229.0,624.09 L230.0,624.09 L231.0,624.09 L232.0,624.09 L233.0,624.09 L234.0,624.09 L235.0,624.09 L236.0,624.09 L237.0,624.09 L238.0,624.09 L239.0,624.09 L240.0,624.08 L241.0,624.08 L242.0,624.08 L243.0,624.08 L244.0,624.08 L245.0,624.08 L246.0,624.08 L247.0,624.08 L248.0,624.08 L249.0,624.07 L250.0,624.07 L251.0,624.07 L252.0,624.07 L253.0,624.07 L254.0,624.07 L255.0,624.06 L256.0,624.06 L257.0,624.06 L258.0,624.06 L259.0,624.05 L260.0,624.05 L261.0,624.05 L262.0,624.05 L263.0,624.04 L264.0,624.04 L265.0,624.04 L266.0,624.04 L267.0,624.03 L268.0,624.03 L269.0,624.02 L270.0,624.02 L271.0,624.02 L272.0,624.01 L273.0,624.01 L274.0,624.00 L275.0,624.00 L276.0,623.99 L277.0,623.99 L278.0,623.98 L279.0,623.98 L280.0,623.97 L281.0,623.97 L282.0,623.96 L283.0,623.95 L284.0,623.95 L285.0,623.94 L286.0,623.93 L287.0,623.93 L288.0,623.92 L289.0,623.91 L290.0,623.90 L291.0,623.89 L292.0,623.88 L293.0,623.88 L294.0,623.87 L295.0,623.86 L296.0,623.85 L297.0,623.84 L298.0,623.82 L299.0,623.81 L300.0,623.80 L301.0,623.79 L302.0,623.78 L303.0,623.76 L304.0,623.75 L305.0,623.74 L306.0,623.72 L307.0,623.71 L308.0,623.69 L309.0,623.68 L310.0,623.66 L311.0,623.65 L312.0,623.63 L313.0,623.61 L314.0,623.60 L315.0,623.58 L316.0,623.56 L317.0,623.54 L318.0,623.52 L319.0,623.50 L320.0,623.48 L321.0,623.46 L322.0,623.44 L323.0,623.42 L324.0,623.39 L325.0,623.37 L326.0,623.35 L327.0,623.32 L328.0,623.30 L329.0,623.27 L330.0,623.25 L331.0,623.22 L332.0,623.20 L333.0,623.17 L334.0,623.14 L335.0,623.11 L336.0,623.09 L337.0,623.06 L338.0,623.03 L339.0,623.00 L340.0,622.97 L341.0,622.94 L342.0,622.91 L343.0,622.87 L344.0,622.84 L345.0,622.81 L346.0,622.78 L347.0,622.74 L348.0,622.71 L349.0,622.67 L350.0,622.64 L351.0,622.60 L352.0,622.57 L353.0,622.53 L354.0,622.50 L355.0,622.46 L356.0,622.42 L357.0,622.39 L358.0,622.35 L359.0,622.31 L360.0,622.28 L361.0,622.24 L362.0,622.20 L363.0,622.16 L364.0,622.12 L365.0,622.08 L366.0,622.05 L367.0,622.01 L368.0,621.97 L369.0,621.93 L370.0,621.89 L371.0,621.85 L372.0,621.81 L373.0,621.77 L374.0,621.73 L375.0,621.70 L376.0,621.66 L377.0,621.62 L378.0,621.58 L379.0,621.54 L380.0,621.50 L381.0,621.47 L382.0,621.43 L383.0,621.39 L384.0,621.35 L385.0,621.32 L386.0,621.28 L387.0,621.24 L388.0,621.21 L389.0,621.17 L390.0,621.14 L391.0,621.10 L392.0,621.07 L393.0,621.04 L394.0,621.00 L395.0,620.97 L396.0,620.94 L397.0,620.91 L398.0,620.88 L399.0,620.84 L400.0,620.81 L401.0,620.79 L402.0,620.76 L403.0,620.73 L404.0,620.70 L405.0,620.67 L406.0,620.65 L407.0,620.62 L408.0,620.59 L409.0,620.57 L410.0,620.55 L411.0,620.52 L412.0,620.50 L413.0,620.48 L414.0,620.45 L415.0,620.43 L416.0,620.41 L417.0,620.39 L418.0,620.37 L419.0,620.35 L420.0,620.33 L421.0,620.31 L422.0,620.29 L423.0,620.27 L424.0,620.26 L425.0,620.24 L426.0,620.22 L427.0,620.20 L428.0,620.19 L429.0,620.17 L430.0,620.15 L431.0,620.14 L432.0,620.12 L433.0,620.10 L434.0,620.09 L435.0,620.07 L436.0,620.05 L437.0,620.03 L438.0,620.01 L439.0,620.00 L440.0,619.98 L441.0,619.96 L442.0,619.94 L443.0,619.92 L444.0,619.89 L445.0,619.87 L446.0,619.85 L447.0,619.82 L448.0,619.80 L449.0,619.77 L450.0,619.74 L451.0,619.72 L452.0,619.69 L453.0,619.65 L454.0,619.62 L455.0,619.59 L456.0,619.55 L457.0,619.51 L458.0,619.47 L459.0,619.43 L460.0,619.39 L461.0,619.34 L462.0,619.29 L463.0,619.24 L464.0,619.19 L465.0,619.13 L466.0,619.08 L467.0,619.02 L468.0,618.95 L469.0,618.89 L470.0,618.82 L471.0,618.74 L472.0,618.67 L473.0,618.59 L474.0,618.50 L475.0,618.42 L476.0,618.32 L477.0,618.23 L478.0,618.13 L479.0,618.02 L480.0,617.91 L481.0,617.80 L482.0,617.68 L483.0,617.56 L484.0,617.43 L485.0,617.29 L486.0,617.15 L487.0,617.00 L488.0,616.85 L489.0,616.70 L490.0,616.53 L491.0,616.36 L492.0,616.19 L493.0,616.01 L494.0,615.83 L495.0,615.64 L496.0,615.44 L497.0,615.25 L498.0,615.05 L499.0,614.84 L500.0,614.63 L501.0,614.43 L502.0,614.21 L503.0,614.00 L504.0,613.79 L505.0,613.58 L506.0,613.37 L507.0,613.16 L508.0,612.95 L509.0,612.75 L510.0,612.55 L511.0,612.36 L512.0,612.17 L513.0,611.99 L514.0,611.81 L515.0,611.64 L516.0,611.48 L517.0,611.32 L518.0,611.17 L519.0,611.03 L520.0,610.90 L521.0,610.78 L522.0,610.66 L523.0,610.55 L524.0,610.45 L525.0,610.36 L526.0,610.27 L527.0,610.19 L528.0,610.12 L529.0,610.05 L530.0,609.99 L531.0,609.94 L532.0,609.88 L533.0,609.84 L534.0,609.79 L535.0,609.75 L536.0,609.72 L537.0,609.68 L538.0,609.65 L539.0,609.62 L540.0,609.60 L541.0,609.57 L542.0,609.54 L543.0,609.52 L544.0,609.50 L545.0,609.48 L546.0,609.46 L547.0,609.44 L548.0,609.42 L549.0,609.40 L550.0,609.39 L551.0,609.37 L552.0,609.36 L553.0,609.34 L554.0,609.33 L555.0,609.32 L556.0,609.31 L557.0,609.30 L558.0,609.30 L559.0,609.29 L560.0,609.29 L561.0,609.29 L562.0,609.28 L563.0,609.28 L564.0,609.28 L565.0,609.28 L566.0,609.29 L567.0,609.29 L568.0,609.29 L569.0,609.29 L570.0,609.30 L571.0,609.30 L572.0,609.30 L573.0,609.30 L574.0,609.30 L575.0,609.30 L576.0,609.29 L577.0,609.29 L578.0,609.28 L579.0,609.26 L580.0,609.25 L581.0,609.22 L582.0,609.20 L583.0,609.17 L584.0,609.13 L585.0,609.09 L586.0,609.04 L587.0,608.98 L588.0,608.91 L589.0,608.84 L590.0,608.76 L591.0,608.67 L592.0,608.57 L593.0,608.46 L594.0,608.33 L595.0,608.20 L596.0,608.05 L597.0,607.89 L598.0,607.72 L599.0,607.53 L600.0,607.33 L601.0,607.11 L602.0,606.88 L603.0,606.63 L604.0,606.37 L605.0,606.09 L606.0,605.78 L607.0,605.47 L608.0,605.13 L609.0,604.77 L610.0,604.39 L611.0,604.00 L612.0,603.58 L613.0,603.14 L614.0,602.68 L615.0,602.20 L616.0,601.69 L617.0,601.17 L618.0,600.62 L619.0,600.05 L620.0,599.46 L621.0,598.85 L622.0,598.21 L623.0,597.56 L624.0,596.88 L625.0,596.18 L626.0,595.46 L627.0,594.72 L628.0,593.96 L629.0,593.18 L630.0,592.38 L631.0,591.56 L632.0,590.73 L633.0,589.88 L634.0,589.02 L635.0,588.14 L636.0,587.25 L637.0,586.35 L638.0,585.44 L639.0,584.52 L640.0,583.59 L641.0,582.66 L642.0,581.72 L643.0,580.78 L644.0,579.85 L645.0,578.91 L646.0,577.97 L647.0,577.05 L648.0,576.12 L649.0,575.21 L650.0,574.31 L651.0,573.41 L652.0,572.54 L653.0,571.68 L654.0,570.83 L655.0,570.01 L656.0,569.20 L657.0,568.42 L658.0,567.66 L659.0,566.93 L660.0,566.22 L661.0,565.54 L662.0,564.89 L663.0,564.26 L664.0,563.67 L665.0,563.11 L666.0,562.57 L667.0,562.07 L668.0,561.60 L669.0,561.16 L670.0,560.76 L671.0,560.38 L672.0,560.03 L673.0,559.71 L674.0,559.42 L675.0,559.16 L676.0,558.92 L677.0,558.71 L678.0,558.52 L679.0,558.36 L680.0,558.21 L681.0,558.08 L682.0,557.97 L683.0,557.87 L684.0,557.78 L685.0,557.71 L686.0,557.64 L687.0,557.58 L688.0,557.53 L689.0,557.47 L690.0,557.42 L691.0,557.36 L692.0,557.30 L693.0,557.23 L694.0,557.15 L695.0,557.07 L696.0,556.98 L697.0,556.87 L698.0,556.75 L699.0,556.61 L700.0,556.46 L701.0,556.30 L702.0,556.11 L703.0,555.91 L704.0,555.70 L705.0,555.47 L706.0,555.22 L707.0,554.95 L708.0,554.68 L709.0,554.38 L710.0,554.08 L711.0,553.76 L712.0,553.44 L713.0,553.10 L714.0,552.77 L715.0,552.42 L716.0,552.08 L717.0,551.74 L718.0,551.40 L719.0,551.07 L720.0,550.74 L721.0,550.43 L722.0,550.13 L723.0,549.85 L724.0,549.59 L725.0,549.35 L726.0,549.14 L727.0,548.96 L728.0,548.81 L729.0,548.69 L730.0,548.61 L731.0,548.56 L732.0,548.56 L733.0,548.60 L734.0,548.69 L735.0,548.82 L736.0,549.00 L737.0,549.23 L738.0,549.51 L739.0,549.84 L740.0,550.22 L741.0,550.66 L742.0,551.15 L743.0,551.69 L744.0,552.29 L745.0,552.94 L746.0,553.64 L747.0,554.39 L748.0,555.19 L749.0,556.04 L750.0,556.94 L751.0,557.88 L752.0,558.87 L753.0,559.90 L754.0,560.97 L755.0,562.08 L756.0,563.22 L757.0,564.40 L758.0,565.60 L759.0,566.84 L760.0,568.10 L761.0,569.38 L762.0,570.68 L763.0,572.00 L764.0,573.33 L765.0,574.67 L766.0,576.02 L767.0,577.38 L768.0,578.73 L769.0,580.09 L770.0,581.45 L771.0,582.80 L772.0,584.14 L773.0,585.48 L774.0,586.80 L775.0,588.10 L776.0,589.39 L777.0,590.67 L778.0,591.92 L779.0,593.15 L780.0,594.36 L781.0,595.54 L782.0,596.70 L783.0,597.83 L784.0,598.93 L785.0,600.01 L786.0,601.05 L787.0,602.07 L788.0,603.05 L789.0,604.01 L790.0,604.93 L791.0,605.82 L792.0,606.68 L793.0,607.51 L794.0,608.31 L795.0,609.08 L796.0,609.82 L797.0,610.53 L798.0,611.21 L799.0,611.86 L800.0,612.48 L801.0,613.07 L802.0,613.64 L803.0,614.18 L804.0,614.70 L805.0,615.19 L806.0,615.65 L807.0,616.10 L808.0,616.52 L809.0,616.92 L810.0,617.30 L811.0,617.66 L812.0,618.00 L813.0,618.32 L814.0,618.63 L815.0,618.91 L816.0,619.19 L817.0,619.45 L818.0,619.69 L819.0,619.92 L820.0,620.14 L821.0,620.34 L822.0,620.54 L823.0,620.72 L824.0,620.89 L825.0,621.06 L826.0,621.21 L827.0,621.36 L828.0,621.50 L829.0,621.63 L830.0,621.75 L831.0,621.87 L832.0,621.98 L833.0,622.08 L834.0,622.18 L835.0,622.27 L836.0,622.36 L837.0,622.45 L838.0,622.53 L839.0,622.60 L840.0,622.68 L841.0,622.74 L842.0,622.81 L843.0,622.87 L844.0,622.93 L845.0,622.99 L846.0,623.04 L847.0,623.09 L848.0,623.14 L849.0,623.19 L850.0,623.23 L851.0,623.28 L852.0,623.32 L853.0,623.36 L854.0,623.39 L855.0,623.43 L856.0,623.46 L857.0,623.49 L858.0,623.53 L859.0,623.55 L860.0,623.58 L861.0,623.61 L862.0,623.64 L863.0,623.66 L864.0,623.68 L865.0,623.71 L866.0,623.73 L867.0,623.75 L868.0,623.77 L869.0,623.79 L870.0,623.80 L871.0,623.82 L872.0,623.84 L873.0,623.85 L874.0,623.87 L875.0,623.88 L876.0,623.89 L877.0,623.91 L878.0,623.92 L879.0,623.93 L880.0,623.94 L881.0,623.95 L882.0,623.96 L883.0,623.97 L884.0,623.98 L885.0,623.98 L886.0,623.99 L887.0,624.00 L888.0,624.01 L889.0,624.01 L890.0,624.02 L891.0,624.02 L892.0,624.03 L893.0,624.03 L894.0,624.04 L895.0,624.04 L896.0,624.05 L897.0,624.05 L898.0,624.05 L899.0,624.06 L900.0,624.06 L901.0,624.06 L902.0,624.07 L903.0,624.07 L904.0,624.07 L905.0,624.07 L905.0,624.1 L110.0,624.1 Z" fill="#1c6be0" stroke="none"/>
<path d="M110.0,624.10 L111.0,624.10 L112.0,624.10 L113.0,624.10 L114.0,624.10 L115.0,624.10 L116.0,624.10 L117.0,624.10 L118.0,624.10 L119.0,624.10 L120.0,624.10 L121.0,624.10 L122.0,624.10 L123.0,624.10 L124.0,624.10 L125.0,624.10 L126.0,624.10 L127.0,624.10 L128.0,624.10 L129.0,624.10 L130.0,624.10 L131.0,624.10 L132.0,624.10 L133.0,624.10 L134.0,624.10 L135.0,624.10 L136.0,624.10 L137.0,624.10 L138.0,624.10 L139.0,624.10 L140.0,624.10 L141.0,624.10 L142.0,624.10 L143.0,624.10 L144.0,624.10 L145.0,624.10 L146.0,624.10 L147.0,624.10 L148.0,624.10 L149.0,624.10 L150.0,624.10 L151.0,624.10 L152.0,624.10 L153.0,624.10 L154.0,624.10 L155.0,624.10 L156.0,624.10 L157.0,624.10 L158.0,624.10 L159.0,624.10 L160.0,624.10 L161.0,624.10 L162.0,624.10 L163.0,624.10 L164.0,624.10 L165.0,624.10 L166.0,624.10 L167.0,624.10 L168.0,624.10 L169.0,624.10 L170.0,624.10 L171.0,624.10 L172.0,624.10 L173.0,624.10 L174.0,624.10 L175.0,624.10 L176.0,624.10 L177.0,624.10 L178.0,624.10 L179.0,624.10 L180.0,624.10 L181.0,624.10 L182.0,624.10 L183.0,624.10 L184.0,624.10 L185.0,624.10 L186.0,624.10 L187.0,624.10 L188.0,624.10 L189.0,624.10 L190.0,624.10 L191.0,624.10 L192.0,624.10 L193.0,624.10 L194.0,624.10 L195.0,624.10 L196.0,624.10 L197.0,624.10 L198.0,624.10 L199.0,624.10 L200.0,624.10 L201.0,624.10 L202.0,624.10 L203.0,624.10 L204.0,624.10 L205.0,624.10 L206.0,624.10 L207.0,624.10 L208.0,624.10 L209.0,624.10 L210.0,624.10 L211.0,624.10 L212.0,624.10 L213.0,624.10 L214.0,624.10 L215.0,624.10 L216.0,624.10 L217.0,624.10 L218.0,624.10 L219.0,624.10 L220.0,624.10 L221.0,624.10 L222.0,624.09 L223.0,624.09 L224.0,624.09 L225.0,624.09 L226.0,624.09 L227.0,624.09 L228.0,624.09 L229.0,624.09 L230.0,624.09 L231.0,624.09 L232.0,624.09 L233.0,624.09 L234.0,624.09 L235.0,624.09 L236.0,624.09 L237.0,624.09 L238.0,624.09 L239.0,624.09 L240.0,624.08 L241.0,624.08 L242.0,624.08 L243.0,624.08 L244.0,624.08 L245.0,624.08 L246.0,624.08 L247.0,624.08 L248.0,624.08 L249.0,624.07 L250.0,624.07 L251.0,624.07 L252.0,624.07 L253.0,624.07 L254.0,624.07 L255.0,624.06 L256.0,624.06 L257.0,624.06 L258.0,624.06 L259.0,624.05 L260.0,624.05 L261.0,624.05 L262.0,624.05 L263.0,624.04 L264.0,624.04 L265.0,624.04 L266.0,624.04 L267.0,624.03 L268.0,624.03 L269.0,624.02 L270.0,624.02 L271.0,624.02 L272.0,624.01 L273.0,624.01 L274.0,624.00 L275.0,624.00 L276.0,623.99 L277.0,623.99 L278.0,623.98 L279.0,623.98 L280.0,623.97 L281.0,623.97 L282.0,623.96 L283.0,623.95 L284.0,623.95 L285.0,623.94 L286.0,623.93 L287.0,623.93 L288.0,623.92 L289.0,623.91 L290.0,623.90 L291.0,623.89 L292.0,623.88 L293.0,623.88 L294.0,623.87 L295.0,623.86 L296.0,623.85 L297.0,623.84 L298.0,623.82 L299.0,623.81 L300.0,623.80 L301.0,623.79 L302.0,623.78 L303.0,623.76 L304.0,623.75 L305.0,623.74 L306.0,623.72 L307.0,623.71 L308.0,623.69 L309.0,623.68 L310.0,623.66 L311.0,623.65 L312.0,623.63 L313.0,623.61 L314.0,623.60 L315.0,623.58 L316.0,623.56 L317.0,623.54 L318.0,623.52 L319.0,623.50 L320.0,623.48 L321.0,623.46 L322.0,623.44 L323.0,623.42 L324.0,623.39 L325.0,623.37 L326.0,623.35 L327.0,623.32 L328.0,623.30 L329.0,623.27 L330.0,623.25 L331.0,623.22 L332.0,623.20 L333.0,623.17 L334.0,623.14 L335.0,623.11 L336.0,623.09 L337.0,623.06 L338.0,623.03 L339.0,623.00 L340.0,622.97 L341.0,622.94 L342.0,622.91 L343.0,622.87 L344.0,622.84 L345.0,622.81 L346.0,622.78 L347.0,622.74 L348.0,622.71 L349.0,622.67 L350.0,622.64 L351.0,622.60 L352.0,622.57 L353.0,622.53 L354.0,622.50 L355.0,622.46 L356.0,622.42 L357.0,622.39 L358.0,622.35 L359.0,622.31 L360.0,622.28 L361.0,622.24 L362.0,622.20 L363.0,622.16 L364.0,622.12 L365.0,622.08 L366.0,622.05 L367.0,622.01 L368.0,621.97 L369.0,621.93 L370.0,621.89 L371.0,621.85 L372.0,621.81 L373.0,621.77 L374.0,621.73 L375.0,621.70 L376.0,621.66 L377.0,621.62 L378.0,621.58 L379.0,621.54 L380.0,621.50 L381.0,621.47 L382.0,621.43 L383.0,621.39 L384.0,621.35 L385.0,621.32 L386.0,621.28 L387.0,621.24 L388.0,621.21 L389.0,621.17 L390.0,621.14 L391.0,621.10 L392.0,621.07 L393.0,621.04 L394.0,621.00 L395.0,620.97 L396.0,620.94 L397.0,620.91 L398.0,620.88 L399.0,620.84 L400.0,620.81 L401.0,620.79 L402.0,620.76 L403.0,620.73 L404.0,620.70 L405.0,620.67 L406.0,620.65 L407.0,620.62 L408.0,620.59 L409.0,620.57 L410.0,620.55 L411.0,620.52 L412.0,620.50 L413.0,620.48 L414.0,620.45 L415.0,620.43 L416.0,620.41 L417.0,620.39 L418.0,620.37 L419.0,620.35 L420.0,620.33 L421.0,620.31 L422.0,620.29 L423.0,620.27 L424.0,620.26 L425.0,620.24 L426.0,620.22 L427.0,620.20 L428.0,620.19 L429.0,620.17 L430.0,620.15 L431.0,620.14 L432.0,620.12 L433.0,620.10 L434.0,620.09 L435.0,620.07 L436.0,620.05 L437.0,620.03 L438.0,620.01 L439.0,620.00 L440.0,619.98 L441.0,619.96 L442.0,619.94 L443.0,619.92 L444.0,619.89 L445.0,619.87 L446.0,619.85 L447.0,619.82 L448.0,619.80 L449.0,619.77 L450.0,619.74 L451.0,619.72 L452.0,619.69 L453.0,619.65 L454.0,619.62 L455.0,619.59 L456.0,619.55 L457.0,619.51 L458.0,619.47 L459.0,619.43 L460.0,619.39 L461.0,619.34 L462.0,619.29 L463.0,619.24 L464.0,619.19 L465.0,619.13 L466.0,619.08 L467.0,619.02 L468.0,618.95 L469.0,618.89 L470.0,618.82 L471.0,618.74 L472.0,618.67 L473.0,618.59 L474.0,618.50 L475.0,618.42 L476.0,618.32 L477.0,618.23 L478.0,618.13 L479.0,618.02 L480.0,617.91 L481.0,617.80 L482.0,617.68 L483.0,617.56 L484.0,617.43 L485.0,617.29 L486.0,617.15 L487.0,617.00 L488.0,616.85 L489.0,616.70 L490.0,616.53 L491.0,616.36 L492.0,616.19 L493.0,616.01 L494.0,615.83 L495.0,615.64 L496.0,615.44 L497.0,615.25 L498.0,615.05 L499.0,614.84 L500.0,614.63 L501.0,614.43 L502.0,614.21 L503.0,614.00 L504.0,613.79 L505.0,613.58 L506.0,613.37 L507.0,613.16 L508.0,612.95 L509.0,612.75 L510.0,612.55 L511.0,612.36 L512.0,612.17 L513.0,611.99 L514.0,611.81 L515.0,611.64 L516.0,611.48 L517.0,611.32 L518.0,611.17 L519.0,611.03 L520.0,610.90 L521.0,610.78 L522.0,610.66 L523.0,610.55 L524.0,610.45 L525.0,610.36 L526.0,610.27 L527.0,610.19 L528.0,610.12 L529.0,610.05 L530.0,609.99 L531.0,609.94 L532.0,609.88 L533.0,609.84 L534.0,609.79 L535.0,609.75 L536.0,609.72 L537.0,609.68 L538.0,609.65 L539.0,609.62 L540.0,609.60 L541.0,609.57 L542.0,609.54 L543.0,609.52 L544.0,609.50 L545.0,609.48 L546.0,609.46 L547.0,609.44 L548.0,609.42 L549.0,609.40 L550.0,609.39 L551.0,609.37 L552.0,609.36 L553.0,609.34 L554.0,609.33 L555.0,609.32 L556.0,609.31 L557.0,609.30 L558.0,609.30 L559.0,609.29 L560.0,609.29 L561.0,609.29 L562.0,609.28 L563.0,609.28 L564.0,609.28 L565.0,609.28 L566.0,609.29 L567.0,609.29 L568.0,609.29 L569.0,609.29 L570.0,609.30 L571.0,609.30 L572.0,609.30 L573.0,609.30 L574.0,609.30 L575.0,609.30 L576.0,609.29 L577.0,609.29 L578.0,609.28 L579.0,609.26 L580.0,609.25 L581.0,609.22 L582.0,609.20 L583.0,609.17 L584.0,609.13 L585.0,609.09 L586.0,609.04 L587.0,608.98 L588.0,608.91 L589.0,608.84 L590.0,608.76 L591.0,608.67 L592.0,608.57 L593.0,608.46 L594.0,608.33 L595.0,608.20 L596.0,608.05 L597.0,607.89 L598.0,607.72 L599.0,607.53 L600.0,607.33 L601.0,607.11 L602.0,606.88 L603.0,606.63 L604.0,606.37 L605.0,606.09 L606.0,605.78 L607.0,605.47 L608.0,605.13 L609.0,604.77 L610.0,604.39 L611.0,604.00 L612.0,603.58 L613.0,603.14 L614.0,602.68 L615.0,602.20 L616.0,601.69 L617.0,601.17 L618.0,600.62 L619.0,600.05 L620.0,599.46 L621.0,598.85 L622.0,598.21 L623.0,597.56 L624.0,596.88 L625.0,596.18 L626.0,595.46 L627.0,594.72 L628.0,593.96 L629.0,593.18 L630.0,592.38 L631.0,591.56 L632.0,590.73 L633.0,589.88 L634.0,589.02 L635.0,588.14 L636.0,587.25 L637.0,586.35 L638.0,585.44 L639.0,584.52 L640.0,583.59 L641.0,582.66 L642.0,581.72 L643.0,580.78 L644.0,579.85 L645.0,578.91 L646.0,577.97 L647.0,577.05 L648.0,576.12 L649.0,575.21 L650.0,574.31 L651.0,573.41 L652.0,572.54 L653.0,571.68 L654.0,570.83 L655.0,570.01 L656.0,569.20 L657.0,568.42 L658.0,567.66 L659.0,566.93 L660.0,566.22 L661.0,565.54 L662.0,564.89 L663.0,564.26 L664.0,563.67 L665.0,563.11 L666.0,562.57 L667.0,562.07 L668.0,561.60 L669.0,561.16 L670.0,560.76 L671.0,560.38 L672.0,560.03 L673.0,559.71 L674.0,559.42 L675.0,559.16 L676.0,558.92 L677.0,558.71 L678.0,558.52 L679.0,558.36 L680.0,558.21 L681.0,558.08 L682.0,557.97 L683.0,557.87 L684.0,557.78 L685.0,557.71 L686.0,557.64 L687.0,557.58 L688.0,557.53 L689.0,557.47 L690.0,557.42 L691.0,557.36 L692.0,557.30 L693.0,557.23 L694.0,557.15 L695.0,557.07 L696.0,556.98 L697.0,556.87 L698.0,556.75 L699.0,556.61 L700.0,556.46 L701.0,556.30 L702.0,556.11 L703.0,555.91 L704.0,555.70 L705.0,555.47 L706.0,555.22 L707.0,554.95 L708.0,554.68 L709.0,554.38 L710.0,554.08 L711.0,553.76 L712.0,553.44 L713.0,553.10 L714.0,552.77 L715.0,552.42 L716.0,552.08 L717.0,551.74 L718.0,551.40 L719.0,551.07 L720.0,550.74 L721.0,550.43 L722.0,550.13 L723.0,549.85 L724.0,549.59 L725.0,549.35 L726.0,549.14 L727.0,548.96 L728.0,548.81 L729.0,548.69 L730.0,548.61 L731.0,548.56 L732.0,548.56 L733.0,548.60 L734.0,548.69 L735.0,548.82 L736.0,549.00 L737.0,549.23 L738.0,549.51 L739.0,549.84 L740.0,550.22 L741.0,550.66 L742.0,551.15 L743.0,551.69 L744.0,552.29 L745.0,552.94 L746.0,553.64 L747.0,554.39 L748.0,555.19 L749.0,556.04 L750.0,556.94 L751.0,557.88 L752.0,558.87 L753.0,559.90 L754.0,560.97 L755.0,562.08 L756.0,563.22 L757.0,564.40 L758.0,565.60 L759.0,566.84 L760.0,568.10 L761.0,569.38 L762.0,570.68 L763.0,572.00 L764.0,573.33 L765.0,574.67 L766.0,576.02 L767.0,577.38 L768.0,578.73 L769.0,580.09 L770.0,581.45 L771.0,582.80 L772.0,584.14 L773.0,585.48 L774.0,586.80 L775.0,588.10 L776.0,589.39 L777.0,590.67 L778.0,591.92 L779.0,593.15 L780.0,594.36 L781.0,595.54 L782.0,596.70 L783.0,597.83 L784.0,598.93 L785.0,600.01 L786.0,601.05 L787.0,602.07 L788.0,603.05 L789.0,604.01 L790.0,604.93 L791.0,605.82 L792.0,606.68 L793.0,607.51 L794.0,608.31 L795.0,609.08 L796.0,609.82 L797.0,610.53 L798.0,611.21 L799.0,611.86 L800.0,612.48 L801.0,613.07 L802.0,613.64 L803.0,614.18 L804.0,614.70 L805.0,615.19 L806.0,615.65 L807.0,616.10 L808.0,616.52 L809.0,616.92 L810.0,617.30 L811.0,617.66 L812.0,618.00 L813.0,618.32 L814.0,618.63 L815.0,618.91 L816.0,619.19 L817.0,619.45 L818.0,619.69 L819.0,619.92 L820.0,620.14 L821.0,620.34 L822.0,620.54 L823.0,620.72 L824.0,620.89 L825.0,621.06 L826.0,621.21 L827.0,621.36 L828.0,621.50 L829.0,621.63 L830.0,621.75 L831.0,621.87 L832.0,621.98 L833.0,622.08 L834.0,622.18 L835.0,622.27 L836.0,622.36 L837.0,622.45 L838.0,622.53 L839.0,622.60 L840.0,622.68 L841.0,622.74 L842.0,622.81 L843.0,622.87 L844.0,622.93 L845.0,622.99 L846.0,623.04 L847.0,623.09 L848.0,623.14 L849.0,623.19 L850.0,623.23 L851.0,623.28 L852.0,623.32 L853.0,623.36 L854.0,623.39 L855.0,623.43 L856.0,623.46 L857.0,623.49 L858.0,623.53 L859.0,623.55 L860.0,623.58 L861.0,623.61 L862.0,623.64 L863.0,623.66 L864.0,623.68 L865.0,623.71 L866.0,623.73 L867.0,623.75 L868.0,623.77 L869.0,623.79 L870.0,623.80 L871.0,623.82 L872.0,623.84 L873.0,623.85 L874.0,623.87 L875.0,623.88 L876.0,623.89 L877.0,623.91 L878.0,623.92 L879.0,623.93 L880.0,623.94 L881.0,623.95 L882.0,623.96 L883.0,623.97 L884.0,623.98 L885.0,623.98 L886.0,623.99 L887.0,624.00 L888.0,624.01 L889.0,624.01 L890.0,624.02 L891.0,624.02 L892.0,624.03 L893.0,624.03 L894.0,624.04 L895.0,624.04 L896.0,624.05 L897.0,624.05 L898.0,624.05 L899.0,624.06 L900.0,624.06 L901.0,624.06 L902.0,624.07 L903.0,624.07 L904.0,624.07 L905.0,624.07" fill="none" stroke="#000" stroke-width="1.8" stroke-linejoin="round"/>
<path d="M214.0,774.00 L215.0,774.00 L216.0,774.00 L217.0,774.00 L218.0,774.00 L219.0,774.00 L220.0,774.00 L221.0,774.00 L222.0,774.00 L223.0,774.00 L224.0,774.00 L225.0,774.00 L226.0,774.00 L227.0,774.00 L228.0,774.00 L229.0,774.00 L230.0,774.00 L231.0,774.00 L232.0,774.00 L233.0,774.00 L234.0,774.00 L235.0,774.00 L236.0,774.00 L237.0,774.00 L238.0,774.00 L239.0,774.00 L240.0,774.00 L241.0,774.00 L242.0,774.00 L243.0,774.00 L244.0,774.00 L245.0,774.00 L246.0,774.00 L247.0,774.00 L248.0,774.00 L249.0,774.00 L250.0,774.00 L251.0,774.00 L252.0,774.00 L253.0,774.00 L254.0,774.00 L255.0,774.00 L256.0,774.00 L257.0,774.00 L258.0,774.00 L259.0,774.00 L260.0,774.00 L261.0,774.00 L262.0,774.00 L263.0,774.00 L264.0,774.00 L265.0,774.00 L266.0,774.00 L267.0,774.00 L268.0,774.00 L269.0,774.00 L270.0,774.00 L271.0,774.00 L272.0,774.00 L273.0,774.00 L274.0,774.00 L275.0,774.00 L276.0,774.00 L277.0,774.00 L278.0,774.00 L279.0,774.00 L280.0,774.00 L281.0,774.00 L282.0,774.00 L283.0,774.00 L284.0,774.00 L285.0,774.00 L286.0,774.00 L287.0,774.00 L288.0,774.00 L289.0,774.00 L290.0,774.00 L291.0,774.00 L292.0,774.00 L293.0,774.00 L294.0,774.00 L295.0,774.00 L296.0,774.00 L297.0,774.00 L298.0,774.00 L299.0,774.00 L300.0,774.00 L301.0,774.00 L302.0,774.00 L303.0,774.00 L304.0,774.00 L305.0,774.00 L306.0,774.00 L307.0,774.00 L308.0,774.00 L309.0,774.00 L310.0,774.00 L311.0,774.00 L312.0,774.00 L313.0,774.00 L314.0,774.00 L315.0,774.00 L316.0,774.00 L317.0,774.00 L318.0,774.00 L319.0,774.00 L320.0,774.00 L321.0,774.00 L322.0,774.00 L323.0,774.00 L324.0,774.00 L325.0,774.00 L326.0,774.00 L327.0,774.00 L328.0,774.00 L329.0,774.00 L330.0,774.00 L331.0,774.00 L332.0,774.00 L333.0,774.00 L334.0,774.00 L335.0,774.00 L336.0,774.00 L337.0,774.00 L338.0,774.00 L339.0,774.00 L340.0,774.00 L341.0,774.00 L342.0,774.00 L343.0,774.00 L344.0,774.00 L345.0,774.00 L346.0,774.00 L347.0,774.00 L348.0,774.00 L349.0,774.00 L350.0,774.00 L351.0,774.00 L352.0,774.00 L353.0,774.00 L354.0,774.00 L355.0,774.00 L356.0,774.00 L357.0,774.00 L358.0,774.00 L359.0,774.00 L360.0,774.00 L361.0,774.00 L362.0,774.00 L363.0,774.00 L364.0,774.00 L365.0,774.00 L366.0,774.00 L367.0,774.00 L368.0,774.00 L369.0,774.00 L370.0,774.00 L371.0,774.00 L372.0,774.00 L373.0,774.00 L374.0,774.00 L375.0,774.00 L376.0,774.00 L377.0,774.00 L378.0,774.00 L379.0,774.00 L380.0,774.00 L381.0,774.00 L382.0,774.00 L383.0,774.00 L384.0,774.00 L385.0,774.00 L386.0,774.00 L387.0,774.00 L388.0,774.00 L389.0,774.00 L390.0,774.00 L391.0,774.00 L392.0,774.00 L393.0,774.00 L394.0,774.00 L395.0,774.00 L396.0,774.00 L397.0,774.00 L398.0,774.00 L399.0,774.00 L400.0,774.00 L401.0,774.00 L402.0,774.00 L403.0,774.00 L404.0,774.00 L405.0,774.00 L406.0,774.00 L407.0,774.00 L408.0,774.00 L409.0,774.00 L410.0,774.00 L411.0,774.00 L412.0,774.00 L413.0,774.00 L414.0,774.00 L415.0,774.00 L416.0,774.00 L417.0,774.00 L418.0,774.00 L419.0,774.00 L420.0,774.00 L421.0,774.00 L422.0,774.00 L423.0,774.00 L424.0,774.00 L425.0,774.00 L426.0,774.00 L427.0,774.00 L428.0,774.00 L429.0,774.00 L430.0,774.00 L431.0,774.00 L432.0,774.00 L433.0,774.00 L434.0,774.00 L435.0,774.00 L436.0,774.00 L437.0,774.00 L438.0,774.00 L439.0,774.00 L440.0,774.00 L441.0,774.00 L442.0,774.00 L443.0,774.00 L444.0,774.00 L445.0,774.00 L446.0,774.00 L447.0,774.00 L448.0,774.00 L449.0,774.00 L450.0,774.00 L451.0,774.00 L452.0,774.00 L453.0,774.00 L454.0,774.00 L455.0,774.00 L456.0,774.00 L457.0,774.00 L458.0,774.00 L459.0,774.00 L460.0,774.00 L461.0,774.00 L462.0,774.00 L463.0,774.00 L464.0,774.00 L465.0,774.00 L466.0,774.00 L467.0,774.00 L468.0,774.00 L469.0,774.00 L470.0,774.00 L471.0,774.00 L472.0,774.00 L473.0,774.00 L474.0,774.00 L475.0,774.00 L476.0,774.00 L477.0,774.00 L478.0,774.00 L479.0,774.00 L480.0,774.00 L481.0,773.99 L482.0,773.99 L483.0,773.99 L484.0,773.99 L485.0,773.99 L486.0,773.99 L487.0,773.98 L488.0,773.98 L489.0,773.98 L490.0,773.98 L491.0,773.97 L492.0,773.97 L493.0,773.96 L494.0,773.95 L495.0,773.95 L496.0,773.94 L497.0,773.93 L498.0,773.92 L499.0,773.91 L500.0,773.89 L501.0,773.88 L502.0,773.86 L503.0,773.84 L504.0,773.82 L505.0,773.80 L506.0,773.77 L507.0,773.74 L508.0,773.71 L509.0,773.67 L510.0,773.63 L511.0,773.58 L512.0,773.53 L513.0,773.48 L514.0,773.42 L515.0,773.36 L516.0,773.29 L517.0,773.21 L518.0,773.13 L519.0,773.04 L520.0,772.95 L521.0,772.85 L522.0,772.74 L523.0,772.62 L524.0,772.50 L525.0,772.37 L526.0,772.23 L527.0,772.08 L528.0,771.93 L529.0,771.77 L530.0,771.60 L531.0,771.42 L532.0,771.23 L533.0,771.04 L534.0,770.84 L535.0,770.64 L536.0,770.43 L537.0,770.22 L538.0,770.00 L539.0,769.77 L540.0,769.55 L541.0,769.32 L542.0,769.09 L543.0,768.85 L544.0,768.62 L545.0,768.39 L546.0,768.17 L547.0,767.94 L548.0,767.72 L549.0,767.50 L550.0,767.29 L551.0,767.09 L552.0,766.89 L553.0,766.71 L554.0,766.53 L555.0,766.36 L556.0,766.20 L557.0,766.05 L558.0,765.91 L559.0,765.78 L560.0,765.66 L561.0,765.55 L562.0,765.44 L563.0,765.35 L564.0,765.27 L565.0,765.19 L566.0,765.11 L567.0,765.04 L568.0,764.97 L569.0,764.90 L570.0,764.83 L571.0,764.76 L572.0,764.68 L573.0,764.59 L574.0,764.48 L575.0,764.37 L576.0,764.23 L577.0,764.08 L578.0,763.91 L579.0,763.71 L580.0,763.49 L581.0,763.24 L582.0,762.96 L583.0,762.64 L584.0,762.30 L585.0,761.92 L586.0,761.51 L587.0,761.07 L588.0,760.60 L589.0,760.09 L590.0,759.55 L591.0,758.99 L592.0,758.40 L593.0,757.79 L594.0,757.15 L595.0,756.51 L596.0,755.85 L597.0,755.19 L598.0,754.53 L599.0,753.87 L600.0,753.22 L601.0,752.58 L602.0,751.96 L603.0,751.37 L604.0,750.81 L605.0,750.28 L606.0,749.79 L607.0,749.34 L608.0,748.94 L609.0,748.58 L610.0,748.28 L611.0,748.03 L612.0,747.83 L613.0,747.69 L614.0,747.60 L615.0,747.56 L616.0,747.56 L617.0,747.62 L618.0,747.72 L619.0,747.85 L620.0,748.02 L621.0,748.22 L622.0,748.45 L623.0,748.69 L624.0,748.95 L625.0,749.21 L626.0,749.48 L627.0,749.74 L628.0,749.99 L629.0,750.22 L630.0,750.44 L631.0,750.62 L632.0,750.78 L633.0,750.90 L634.0,750.98 L635.0,751.02 L636.0,751.02 L637.0,750.96 L638.0,750.86 L639.0,750.72 L640.0,750.52 L641.0,750.27 L642.0,749.97 L643.0,749.62 L644.0,749.22 L645.0,748.77 L646.0,748.28 L647.0,747.74 L648.0,747.15 L649.0,746.53 L650.0,745.85 L651.0,745.14 L652.0,744.38 L653.0,743.58 L654.0,742.74 L655.0,741.86 L656.0,740.92 L657.0,739.94 L658.0,738.90 L659.0,737.80 L660.0,736.64 L661.0,735.40 L662.0,734.09 L663.0,732.69 L664.0,731.20 L665.0,729.60 L666.0,727.88 L667.0,726.03 L668.0,724.05 L669.0,721.91 L670.0,719.61 L671.0,717.14 L672.0,714.48 L673.0,711.62 L674.0,708.57 L675.0,705.30 L676.0,701.83 L677.0,698.13 L678.0,694.22 L679.0,690.10 L680.0,685.78 L681.0,681.26 L682.0,676.55 L683.0,671.69 L684.0,666.68 L685.0,661.55 L686.0,656.33 L687.0,651.05 L688.0,645.74 L689.0,640.45 L690.0,635.20 L691.0,630.05 L692.0,625.03 L693.0,620.18 L694.0,615.54 L695.0,611.16 L696.0,607.07 L697.0,603.31 L698.0,599.92 L699.0,596.91 L700.0,594.33 L701.0,592.18 L702.0,590.50 L703.0,589.28 L704.0,588.55 L705.0,588.29 L706.0,588.52 L707.0,589.23 L708.0,590.40 L709.0,592.03 L710.0,594.10 L711.0,596.59 L712.0,599.48 L713.0,602.74 L714.0,606.35 L715.0,610.29 L716.0,614.52 L717.0,619.02 L718.0,623.76 L719.0,628.70 L720.0,633.82 L721.0,639.10 L722.0,644.49 L723.0,649.97 L724.0,655.51 L725.0,661.09 L726.0,666.67 L727.0,672.23 L728.0,677.74 L729.0,683.17 L730.0,688.51 L731.0,693.72 L732.0,698.80 L733.0,703.71 L734.0,708.44 L735.0,712.98 L736.0,717.31 L737.0,721.43 L738.0,725.32 L739.0,728.98 L740.0,732.40 L741.0,735.59 L742.0,738.55 L743.0,741.28 L744.0,743.79 L745.0,746.08 L746.0,748.17 L747.0,750.06 L748.0,751.77 L749.0,753.30 L750.0,754.67 L751.0,755.90 L752.0,756.99 L753.0,757.96 L754.0,758.82 L755.0,759.58 L756.0,760.26 L757.0,760.86 L758.0,761.40 L759.0,761.88 L760.0,762.31 L761.0,762.70 L762.0,763.05 L763.0,763.37 L764.0,763.67 L765.0,763.95 L766.0,764.22 L767.0,764.47 L768.0,764.71 L769.0,764.94 L770.0,765.17 L771.0,765.39 L772.0,765.61 L773.0,765.82 L774.0,766.04 L775.0,766.25 L776.0,766.46 L777.0,766.66 L778.0,766.87 L779.0,767.07 L780.0,767.28 L781.0,767.48 L782.0,767.68 L783.0,767.88 L784.0,768.07 L785.0,768.26 L786.0,768.46 L787.0,768.64 L788.0,768.83 L789.0,769.01 L790.0,769.19 L791.0,769.36 L792.0,769.53 L793.0,769.70 L794.0,769.86 L795.0,770.01 L796.0,770.16 L797.0,770.31 L798.0,770.45 L799.0,770.59 L800.0,770.72 L801.0,770.85 L802.0,770.97 L803.0,771.09 L804.0,771.20 L805.0,771.30 L806.0,771.40 L807.0,771.50 L808.0,771.59 L809.0,771.67 L810.0,771.75 L811.0,771.83 L812.0,771.90 L813.0,771.97 L814.0,772.03 L815.0,772.09 L816.0,772.14 L817.0,772.19 L818.0,772.24 L819.0,772.28 L820.0,772.32 L821.0,772.36 L822.0,772.39 L823.0,772.43 L824.0,772.46 L825.0,772.49 L826.0,772.51 L827.0,772.54 L828.0,772.57 L829.0,772.59 L830.0,772.61 L831.0,772.64 L832.0,772.66 L833.0,772.69 L834.0,772.71 L835.0,772.73 L836.0,772.76 L837.0,772.79 L838.0,772.81 L839.0,772.84 L840.0,772.87 L841.0,772.89 L842.0,772.92 L843.0,772.95 L844.0,772.98 L845.0,773.01 L846.0,773.05 L847.0,773.08 L848.0,773.11 L849.0,773.15 L850.0,773.18 L851.0,773.21 L852.0,773.25 L853.0,773.28 L854.0,773.32 L855.0,773.35 L856.0,773.38 L857.0,773.41 L858.0,773.45 L859.0,773.48 L860.0,773.51 L861.0,773.54 L862.0,773.57 L863.0,773.60 L864.0,773.62 L865.0,773.65 L866.0,773.68 L867.0,773.70 L868.0,773.72 L869.0,773.74 L870.0,773.77 L871.0,773.78 L872.0,773.80 L873.0,773.82 L874.0,773.84 L875.0,773.85 L876.0,773.87 L877.0,773.88 L878.0,773.89 L879.0,773.90 L880.0,773.91 L881.0,773.92 L882.0,773.93 L883.0,773.94 L884.0,773.94 L885.0,773.95 L886.0,773.96 L887.0,773.96 L888.0,773.97 L889.0,773.97 L890.0,773.97 L890.4,773.97 L890.4,774.0 L214.0,774.0 Z" fill="#36ab6a" stroke="none"/>
<path d="M214.0,774.00 L215.0,774.00 L216.0,774.00 L217.0,774.00 L218.0,774.00 L219.0,774.00 L220.0,774.00 L221.0,774.00 L222.0,774.00 L223.0,774.00 L224.0,774.00 L225.0,774.00 L226.0,774.00 L227.0,774.00 L228.0,774.00 L229.0,774.00 L230.0,774.00 L231.0,774.00 L232.0,774.00 L233.0,774.00 L234.0,774.00 L235.0,774.00 L236.0,774.00 L237.0,774.00 L238.0,774.00 L239.0,774.00 L240.0,774.00 L241.0,774.00 L242.0,774.00 L243.0,774.00 L244.0,774.00 L245.0,774.00 L246.0,774.00 L247.0,774.00 L248.0,774.00 L249.0,774.00 L250.0,774.00 L251.0,774.00 L252.0,774.00 L253.0,774.00 L254.0,774.00 L255.0,774.00 L256.0,774.00 L257.0,774.00 L258.0,774.00 L259.0,774.00 L260.0,774.00 L261.0,774.00 L262.0,774.00 L263.0,774.00 L264.0,774.00 L265.0,774.00 L266.0,774.00 L267.0,774.00 L268.0,774.00 L269.0,774.00 L270.0,774.00 L271.0,774.00 L272.0,774.00 L273.0,774.00 L274.0,774.00 L275.0,774.00 L276.0,774.00 L277.0,774.00 L278.0,774.00 L279.0,774.00 L280.0,774.00 L281.0,774.00 L282.0,774.00 L283.0,774.00 L284.0,774.00 L285.0,774.00 L286.0,774.00 L287.0,774.00 L288.0,774.00 L289.0,774.00 L290.0,774.00 L291.0,774.00 L292.0,774.00 L293.0,774.00 L294.0,774.00 L295.0,774.00 L296.0,774.00 L297.0,774.00 L298.0,774.00 L299.0,774.00 L300.0,774.00 L301.0,774.00 L302.0,774.00 L303.0,774.00 L304.0,774.00 L305.0,774.00 L306.0,774.00 L307.0,774.00 L308.0,774.00 L309.0,774.00 L310.0,774.00 L311.0,774.00 L312.0,774.00 L313.0,774.00 L314.0,774.00 L315.0,774.00 L316.0,774.00 L317.0,774.00 L318.0,774.00 L319.0,774.00 L320.0,774.00 L321.0,774.00 L322.0,774.00 L323.0,774.00 L324.0,774.00 L325.0,774.00 L326.0,774.00 L327.0,774.00 L328.0,774.00 L329.0,774.00 L330.0,774.00 L331.0,774.00 L332.0,774.00 L333.0,774.00 L334.0,774.00 L335.0,774.00 L336.0,774.00 L337.0,774.00 L338.0,774.00 L339.0,774.00 L340.0,774.00 L341.0,774.00 L342.0,774.00 L343.0,774.00 L344.0,774.00 L345.0,774.00 L346.0,774.00 L347.0,774.00 L348.0,774.00 L349.0,774.00 L350.0,774.00 L351.0,774.00 L352.0,774.00 L353.0,774.00 L354.0,774.00 L355.0,774.00 L356.0,774.00 L357.0,774.00 L358.0,774.00 L359.0,774.00 L360.0,774.00 L361.0,774.00 L362.0,774.00 L363.0,774.00 L364.0,774.00 L365.0,774.00 L366.0,774.00 L367.0,774.00 L368.0,774.00 L369.0,774.00 L370.0,774.00 L371.0,774.00 L372.0,774.00 L373.0,774.00 L374.0,774.00 L375.0,774.00 L376.0,774.00 L377.0,774.00 L378.0,774.00 L379.0,774.00 L380.0,774.00 L381.0,774.00 L382.0,774.00 L383.0,774.00 L384.0,774.00 L385.0,774.00 L386.0,774.00 L387.0,774.00 L388.0,774.00 L389.0,774.00 L390.0,774.00 L391.0,774.00 L392.0,774.00 L393.0,774.00 L394.0,774.00 L395.0,774.00 L396.0,774.00 L397.0,774.00 L398.0,774.00 L399.0,774.00 L400.0,774.00 L401.0,774.00 L402.0,774.00 L403.0,774.00 L404.0,774.00 L405.0,774.00 L406.0,774.00 L407.0,774.00 L408.0,774.00 L409.0,774.00 L410.0,774.00 L411.0,774.00 L412.0,774.00 L413.0,774.00 L414.0,774.00 L415.0,774.00 L416.0,774.00 L417.0,774.00 L418.0,774.00 L419.0,774.00 L420.0,774.00 L421.0,774.00 L422.0,774.00 L423.0,774.00 L424.0,774.00 L425.0,774.00 L426.0,774.00 L427.0,774.00 L428.0,774.00 L429.0,774.00 L430.0,774.00 L431.0,774.00 L432.0,774.00 L433.0,774.00 L434.0,774.00 L435.0,774.00 L436.0,774.00 L437.0,774.00 L438.0,774.00 L439.0,774.00 L440.0,774.00 L441.0,774.00 L442.0,774.00 L443.0,774.00 L444.0,774.00 L445.0,774.00 L446.0,774.00 L447.0,774.00 L448.0,774.00 L449.0,774.00 L450.0,774.00 L451.0,774.00 L452.0,774.00 L453.0,774.00 L454.0,774.00 L455.0,774.00 L456.0,774.00 L457.0,774.00 L458.0,774.00 L459.0,774.00 L460.0,774.00 L461.0,774.00 L462.0,774.00 L463.0,774.00 L464.0,774.00 L465.0,774.00 L466.0,774.00 L467.0,774.00 L468.0,774.00 L469.0,774.00 L470.0,774.00 L471.0,774.00 L472.0,774.00 L473.0,774.00 L474.0,774.00 L475.0,774.00 L476.0,774.00 L477.0,774.00 L478.0,774.00 L479.0,774.00 L480.0,774.00 L481.0,773.99 L482.0,773.99 L483.0,773.99 L484.0,773.99 L485.0,773.99 L486.0,773.99 L487.0,773.98 L488.0,773.98 L489.0,773.98 L490.0,773.98 L491.0,773.97 L492.0,773.97 L493.0,773.96 L494.0,773.95 L495.0,773.95 L496.0,773.94 L497.0,773.93 L498.0,773.92 L499.0,773.91 L500.0,773.89 L501.0,773.88 L502.0,773.86 L503.0,773.84 L504.0,773.82 L505.0,773.80 L506.0,773.77 L507.0,773.74 L508.0,773.71 L509.0,773.67 L510.0,773.63 L511.0,773.58 L512.0,773.53 L513.0,773.48 L514.0,773.42 L515.0,773.36 L516.0,773.29 L517.0,773.21 L518.0,773.13 L519.0,773.04 L520.0,772.95 L521.0,772.85 L522.0,772.74 L523.0,772.62 L524.0,772.50 L525.0,772.37 L526.0,772.23 L527.0,772.08 L528.0,771.93 L529.0,771.77 L530.0,771.60 L531.0,771.42 L532.0,771.23 L533.0,771.04 L534.0,770.84 L535.0,770.64 L536.0,770.43 L537.0,770.22 L538.0,770.00 L539.0,769.77 L540.0,769.55 L541.0,769.32 L542.0,769.09 L543.0,768.85 L544.0,768.62 L545.0,768.39 L546.0,768.17 L547.0,767.94 L548.0,767.72 L549.0,767.50 L550.0,767.29 L551.0,767.09 L552.0,766.89 L553.0,766.71 L554.0,766.53 L555.0,766.36 L556.0,766.20 L557.0,766.05 L558.0,765.91 L559.0,765.78 L560.0,765.66 L561.0,765.55 L562.0,765.44 L563.0,765.35 L564.0,765.27 L565.0,765.19 L566.0,765.11 L567.0,765.04 L568.0,764.97 L569.0,764.90 L570.0,764.83 L571.0,764.76 L572.0,764.68 L573.0,764.59 L574.0,764.48 L575.0,764.37 L576.0,764.23 L577.0,764.08 L578.0,763.91 L579.0,763.71 L580.0,763.49 L581.0,763.24 L582.0,762.96 L583.0,762.64 L584.0,762.30 L585.0,761.92 L586.0,761.51 L587.0,761.07 L588.0,760.60 L589.0,760.09 L590.0,759.55 L591.0,758.99 L592.0,758.40 L593.0,757.79 L594.0,757.15 L595.0,756.51 L596.0,755.85 L597.0,755.19 L598.0,754.53 L599.0,753.87 L600.0,753.22 L601.0,752.58 L602.0,751.96 L603.0,751.37 L604.0,750.81 L605.0,750.28 L606.0,749.79 L607.0,749.34 L608.0,748.94 L609.0,748.58 L610.0,748.28 L611.0,748.03 L612.0,747.83 L613.0,747.69 L614.0,747.60 L615.0,747.56 L616.0,747.56 L617.0,747.62 L618.0,747.72 L619.0,747.85 L620.0,748.02 L621.0,748.22 L622.0,748.45 L623.0,748.69 L624.0,748.95 L625.0,749.21 L626.0,749.48 L627.0,749.74 L628.0,749.99 L629.0,750.22 L630.0,750.44 L631.0,750.62 L632.0,750.78 L633.0,750.90 L634.0,750.98 L635.0,751.02 L636.0,751.02 L637.0,750.96 L638.0,750.86 L639.0,750.72 L640.0,750.52 L641.0,750.27 L642.0,749.97 L643.0,749.62 L644.0,749.22 L645.0,748.77 L646.0,748.28 L647.0,747.74 L648.0,747.15 L649.0,746.53 L650.0,745.85 L651.0,745.14 L652.0,744.38 L653.0,743.58 L654.0,742.74 L655.0,741.86 L656.0,740.92 L657.0,739.94 L658.0,738.90 L659.0,737.80 L660.0,736.64 L661.0,735.40 L662.0,734.09 L663.0,732.69 L664.0,731.20 L665.0,729.60 L666.0,727.88 L667.0,726.03 L668.0,724.05 L669.0,721.91 L670.0,719.61 L671.0,717.14 L672.0,714.48 L673.0,711.62 L674.0,708.57 L675.0,705.30 L676.0,701.83 L677.0,698.13 L678.0,694.22 L679.0,690.10 L680.0,685.78 L681.0,681.26 L682.0,676.55 L683.0,671.69 L684.0,666.68 L685.0,661.55 L686.0,656.33 L687.0,651.05 L688.0,645.74 L689.0,640.45 L690.0,635.20 L691.0,630.05 L692.0,625.03 L693.0,620.18 L694.0,615.54 L695.0,611.16 L696.0,607.07 L697.0,603.31 L698.0,599.92 L699.0,596.91 L700.0,594.33 L701.0,592.18 L702.0,590.50 L703.0,589.28 L704.0,588.55 L705.0,588.29 L706.0,588.52 L707.0,589.23 L708.0,590.40 L709.0,592.03 L710.0,594.10 L711.0,596.59 L712.0,599.48 L713.0,602.74 L714.0,606.35 L715.0,610.29 L716.0,614.52 L717.0,619.02 L718.0,623.76 L719.0,628.70 L720.0,633.82 L721.0,639.10 L722.0,644.49 L723.0,649.97 L724.0,655.51 L725.0,661.09 L726.0,666.67 L727.0,672.23 L728.0,677.74 L729.0,683.17 L730.0,688.51 L731.0,693.72 L732.0,698.80 L733.0,703.71 L734.0,708.44 L735.0,712.98 L736.0,717.31 L737.0,721.43 L738.0,725.32 L739.0,728.98 L740.0,732.40 L741.0,735.59 L742.0,738.55 L743.0,741.28 L744.0,743.79 L745.0,746.08 L746.0,748.17 L747.0,750.06 L748.0,751.77 L749.0,753.30 L750.0,754.67 L751.0,755.90 L752.0,756.99 L753.0,757.96 L754.0,758.82 L755.0,759.58 L756.0,760.26 L757.0,760.86 L758.0,761.40 L759.0,761.88 L760.0,762.31 L761.0,762.70 L762.0,763.05 L763.0,763.37 L764.0,763.67 L765.0,763.95 L766.0,764.22 L767.0,764.47 L768.0,764.71 L769.0,764.94 L770.0,765.17 L771.0,765.39 L772.0,765.61 L773.0,765.82 L774.0,766.04 L775.0,766.25 L776.0,766.46 L777.0,766.66 L778.0,766.87 L779.0,767.07 L780.0,767.28 L781.0,767.48 L782.0,767.68 L783.0,767.88 L784.0,768.07 L785.0,768.26 L786.0,768.46 L787.0,768.64 L788.0,768.83 L789.0,769.01 L790.0,769.19 L791.0,769.36 L792.0,769.53 L793.0,769.70 L794.0,769.86 L795.0,770.01 L796.0,770.16 L797.0,770.31 L798.0,770.45 L799.0,770.59 L800.0,770.72 L801.0,770.85 L802.0,770.97 L803.0,771.09 L804.0,771.20 L805.0,771.30 L806.0,771.40 L807.0,771.50 L808.0,771.59 L809.0,771.67 L810.0,771.75 L811.0,771.83 L812.0,771.90 L813.0,771.97 L814.0,772.03 L815.0,772.09 L816.0,772.14 L817.0,772.19 L818.0,772.24 L819.0,772.28 L820.0,772.32 L821.0,772.36 L822.0,772.39 L823.0,772.43 L824.0,772.46 L825.0,772.49 L826.0,772.51 L827.0,772.54 L828.0,772.57 L829.0,772.59 L830.0,772.61 L831.0,772.64 L832.0,772.66 L833.0,772.69 L834.0,772.71 L835.0,772.73 L836.0,772.76 L837.0,772.79 L838.0,772.81 L839.0,772.84 L840.0,772.87 L841.0,772.89 L842.0,772.92 L843.0,772.95 L844.0,772.98 L845.0,773.01 L846.0,773.05 L847.0,773.08 L848.0,773.11 L849.0,773.15 L850.0,773.18 L851.0,773.21 L852.0,773.25 L853.0,773.28 L854.0,773.32 L855.0,773.35 L856.0,773.38 L857.0,773.41 L858.0,773.45 L859.0,773.48 L860.0,773.51 L861.0,773.54 L862.0,773.57 L863.0,773.60 L864.0,773.62 L865.0,773.65 L866.0,773.68 L867.0,773.70 L868.0,773.72 L869.0,773.74 L870.0,773.77 L871.0,773.78 L872.0,773.80 L873.0,773.82 L874.0,773.84 L875.0,773.85 L876.0,773.87 L877.0,773.88 L878.0,773.89 L879.0,773.90 L880.0,773.91 L881.0,773.92 L882.0,773.93 L883.0,773.94 L884.0,773.94 L885.0,773.95 L886.0,773.96 L887.0,773.96 L888.0,773.97 L889.0,773.97 L890.0,773.97 L890.4,773.97" fill="none" stroke="#000" stroke-width="1.8" stroke-linejoin="round"/>
<g><rect x="569.4" y="792.2" width="3.2" height="11.1" fill="#4f4f4f" opacity="0.80"/><rect x="606.4" y="792.2" width="3.3" height="11.1" fill="#4f4f4f" opacity="0.80"/><rect x="622.0" y="792.2" width="1.3" height="11.1" fill="#4f4f4f" opacity="0.85"/><rect x="624.8" y="792.2" width="1.1" height="11.1" fill="#4f4f4f" opacity="0.90"/><rect x="626.6" y="792.2" width="0.8" height="11.1" fill="#4f4f4f" opacity="0.70"/><rect x="628.4" y="792.2" width="1.0" height="11.1" fill="#4f4f4f" opacity="0.90"/><rect x="630.0" y="792.2" width="0.9" height="11.1" fill="#4f4f4f" opacity="0.60"/><rect x="631.6" y="792.2" width="1.0" height="11.1" fill="#4f4f4f" opacity="0.90"/><rect x="634.8" y="792.2" width="1.2" height="11.1" fill="#4f4f4f" opacity="0.95"/><rect x="638.6" y="792.2" width="99.3" height="11.1" fill="#4f4f4f" opacity="1.00"/><rect x="739.5" y="792.2" width="2.1" height="11.1" fill="#4f4f4f" opacity="0.90"/><rect x="743.2" y="792.2" width="2.0" height="11.1" fill="#4f4f4f" opacity="0.85"/><rect x="745.2" y="792.2" width="2.6" height="11.1" fill="#4f4f4f" opacity="0.50"/><rect x="758.9" y="792.2" width="1.7" height="11.1" fill="#4f4f4f" opacity="0.95"/><rect x="769.7" y="792.2" width="1.2" height="11.1" fill="#4f4f4f" opacity="0.95"/><rect x="781.7" y="792.2" width="1.2" height="11.1" fill="#4f4f4f" opacity="0.90"/><rect x="792.8" y="792.2" width="1.2" height="11.1" fill="#4f4f4f" opacity="0.90"/><rect x="651.0" y="792.2" width="0.9" height="11.1" fill="#fff" opacity="0.55"/><rect x="659.3" y="792.2" width="0.9" height="11.1" fill="#fff" opacity="0.55"/><rect x="671.8" y="792.2" width="0.9" height="11.1" fill="#fff" opacity="0.55"/><rect x="336.3" y="792.2" width="1.4" height="11.1" fill="#7a7a7a"/><rect x="356.3" y="792.2" width="1.4" height="11.1" fill="#7a7a7a"/><rect x="376.4" y="792.2" width="1.4" height="11.1" fill="#7a7a7a"/><rect x="412.3" y="792.2" width="1.4" height="11.1" fill="#7a7a7a"/><rect x="459.8" y="792.2" width="1.4" height="11.1" fill="#7a7a7a"/><rect x="473.2" y="792.2" width="1.4" height="11.1" fill="#7a7a7a"/><rect x="507.8" y="792.2" width="1.4" height="11.1" fill="#7a7a7a"/><rect x="516.2" y="792.2" width="1.4" height="11.1" fill="#7a7a7a"/><rect x="524.8" y="792.2" width="1.4" height="11.1" fill="#7a7a7a"/><rect x="530.9" y="792.2" width="1.4" height="11.1" fill="#7a7a7a"/><rect x="560.0" y="792.2" width="1.4" height="11.1" fill="#7a7a7a"/><rect x="563.8" y="792.2" width="1.4" height="11.1" fill="#7a7a7a"/><rect x="578.4" y="792.2" width="1.4" height="11.1" fill="#7a7a7a"/><rect x="582.1" y="792.2" width="1.4" height="11.1" fill="#7a7a7a"/><rect x="593.9" y="792.2" width="1.4" height="11.1" fill="#7a7a7a"/><rect x="600.5" y="792.2" width="1.4" height="11.1" fill="#7a7a7a"/><rect x="621.9" y="792.2" width="1.4" height="11.1" fill="#7a7a7a"/><rect x="634.6" y="792.2" width="1.4" height="11.1" fill="#7a7a7a"/><rect x="752.1" y="792.2" width="1.4" height="11.1" fill="#7a7a7a"/><rect x="753.1" y="792.2" width="1.4" height="11.1" fill="#7a7a7a"/><rect x="754.6" y="792.2" width="1.4" height="11.1" fill="#7a7a7a"/><rect x="762.8" y="792.2" width="1.4" height="11.1" fill="#7a7a7a"/><rect x="764.9" y="792.2" width="1.4" height="11.1" fill="#7a7a7a"/><rect x="766.5" y="792.2" width="1.4" height="11.1" fill="#7a7a7a"/><rect x="783.6" y="792.2" width="1.4" height="11.1" fill="#7a7a7a"/><rect x="785.9" y="792.2" width="1.4" height="11.1" fill="#7a7a7a"/><rect x="786.8" y="792.2" width="1.4" height="11.1" fill="#7a7a7a"/><rect x="798.1" y="792.2" width="1.4" height="11.1" fill="#7a7a7a"/><rect x="798.9" y="792.2" width="1.4" height="11.1" fill="#7a7a7a"/><rect x="812.4" y="792.2" width="1.4" height="11.1" fill="#7a7a7a"/><rect x="815.0" y="792.2" width="1.4" height="11.1" fill="#7a7a7a"/><rect x="816.5" y="792.2" width="1.4" height="11.1" fill="#7a7a7a"/><rect x="817.5" y="792.2" width="1.4" height="11.1" fill="#7a7a7a"/><rect x="820.6" y="792.2" width="1.4" height="11.1" fill="#7a7a7a"/><rect x="829.2" y="792.2" width="1.4" height="11.1" fill="#7a7a7a"/><rect x="851.1" y="792.2" width="1.4" height="11.1" fill="#7a7a7a"/><rect x="859.9" y="792.2" width="1.4" height="11.1" fill="#7a7a7a"/><rect x="862.3" y="792.2" width="1.4" height="11.1" fill="#7a7a7a"/></g>
<g><rect x="552.3" y="809.7" width="1.3" height="11.1" fill="#f64444" opacity="0.90"/><rect x="610.5" y="809.7" width="130.3" height="11.1" fill="#f64444" opacity="1.00"/><rect x="742.8" y="809.7" width="0.8" height="11.1" fill="#f64444" opacity="0.80"/><rect x="745.3" y="809.7" width="2.9" height="11.1" fill="#f64444" opacity="0.85"/><rect x="749.8" y="809.7" width="1.7" height="11.1" fill="#f64444" opacity="0.60"/><rect x="752.5" y="809.7" width="1.5" height="11.1" fill="#f64444" opacity="0.75"/><rect x="754.8" y="809.7" width="1.2" height="11.1" fill="#f64444" opacity="0.80"/><rect x="575.0" y="809.7" width="1.7" height="11.1" fill="#f64444" opacity="0.98"/><rect x="577.1" y="809.7" width="2.1" height="11.1" fill="#f64444" opacity="0.88"/><rect x="579.7" y="809.7" width="1.6" height="11.1" fill="#f64444" opacity="0.75"/><rect x="581.8" y="809.7" width="1.1" height="11.1" fill="#f64444" opacity="0.75"/><rect x="583.5" y="809.7" width="1.1" height="11.1" fill="#f64444" opacity="0.87"/><rect x="585.3" y="809.7" width="1.6" height="11.1" fill="#f64444" opacity="0.83"/><rect x="587.4" y="809.7" width="1.6" height="11.1" fill="#f64444" opacity="0.95"/><rect x="589.4" y="809.7" width="1.6" height="11.1" fill="#f64444" opacity="0.81"/><rect x="591.4" y="809.7" width="1.9" height="11.1" fill="#f64444" opacity="0.88"/><rect x="593.8" y="809.7" width="1.9" height="11.1" fill="#f64444" opacity="0.98"/><rect x="596.2" y="809.7" width="1.7" height="11.1" fill="#f64444" opacity="0.88"/><rect x="598.4" y="809.7" width="1.8" height="11.1" fill="#f64444" opacity="0.86"/><rect x="600.7" y="809.7" width="1.5" height="11.1" fill="#f64444" opacity="0.99"/><rect x="602.8" y="809.7" width="2.0" height="11.1" fill="#f64444" opacity="0.99"/><rect x="605.2" y="809.7" width="1.6" height="11.1" fill="#f64444" opacity="0.99"/><rect x="607.5" y="809.7" width="1.1" height="11.1" fill="#f64444" opacity="0.78"/><rect x="581.1" y="809.7" width="0.9" height="11.1" fill="#fff" opacity="0.55"/><rect x="586.9" y="809.7" width="0.9" height="11.1" fill="#fff" opacity="0.55"/><rect x="588.1" y="809.7" width="0.9" height="11.1" fill="#fff" opacity="0.55"/><rect x="593.9" y="809.7" width="0.9" height="11.1" fill="#fff" opacity="0.55"/><rect x="600.9" y="809.7" width="0.9" height="11.1" fill="#fff" opacity="0.55"/><rect x="602.6" y="809.7" width="0.9" height="11.1" fill="#fff" opacity="0.55"/><rect x="606.3" y="809.7" width="0.9" height="11.1" fill="#fff" opacity="0.55"/><rect x="632.3" y="809.7" width="0.9" height="11.1" fill="#fff" opacity="0.55"/><rect x="638.5" y="809.7" width="0.9" height="11.1" fill="#fff" opacity="0.55"/><rect x="642.3" y="809.7" width="0.9" height="11.1" fill="#fff" opacity="0.55"/><rect x="658.8" y="809.7" width="0.9" height="11.1" fill="#fff" opacity="0.55"/><rect x="660.8" y="809.7" width="0.9" height="11.1" fill="#fff" opacity="0.55"/><rect x="733.1" y="809.7" width="0.9" height="11.1" fill="#fff" opacity="0.55"/><rect x="332.7" y="809.7" width="1.4" height="11.1" fill="#b98a90"/><rect x="346.4" y="809.7" width="1.4" height="11.1" fill="#b98a90"/><rect x="382.0" y="809.7" width="1.4" height="11.1" fill="#b98a90"/><rect x="398.3" y="809.7" width="1.4" height="11.1" fill="#b98a90"/><rect x="428.8" y="809.7" width="1.4" height="11.1" fill="#b98a90"/><rect x="451.7" y="809.7" width="1.4" height="11.1" fill="#b98a90"/><rect x="470.6" y="809.7" width="1.4" height="11.1" fill="#b98a90"/><rect x="490.2" y="809.7" width="1.4" height="11.1" fill="#b98a90"/><rect x="502.4" y="809.7" width="1.4" height="11.1" fill="#b98a90"/><rect x="515.0" y="809.7" width="1.4" height="11.1" fill="#b98a90"/><rect x="530.7" y="809.7" width="1.4" height="11.1" fill="#b98a90"/><rect x="535.3" y="809.7" width="1.4" height="11.1" fill="#b98a90"/><rect x="539.5" y="809.7" width="1.4" height="11.1" fill="#b98a90"/><rect x="543.7" y="809.7" width="1.4" height="11.1" fill="#b98a90"/><rect x="556.7" y="809.7" width="1.4" height="11.1" fill="#b98a90"/><rect x="560.0" y="809.7" width="1.4" height="11.1" fill="#b98a90"/><rect x="562.9" y="809.7" width="1.4" height="11.1" fill="#b98a90"/><rect x="565.4" y="809.7" width="1.4" height="11.1" fill="#b98a90"/><rect x="570.4" y="809.7" width="1.4" height="11.1" fill="#b98a90"/><rect x="757.6" y="809.7" width="1.4" height="11.1" fill="#b98a90"/><rect x="763.6" y="809.7" width="1.4" height="11.1" fill="#b98a90"/><rect x="768.2" y="809.7" width="1.4" height="11.1" fill="#b98a90"/><rect x="769.6" y="809.7" width="1.4" height="11.1" fill="#b98a90"/><rect x="773.9" y="809.7" width="1.4" height="11.1" fill="#b98a90"/><rect x="774.9" y="809.7" width="1.4" height="11.1" fill="#b98a90"/><rect x="777.7" y="809.7" width="1.4" height="11.1" fill="#b98a90"/><rect x="779.2" y="809.7" width="1.4" height="11.1" fill="#b98a90"/><rect x="782.7" y="809.7" width="1.4" height="11.1" fill="#b98a90"/><rect x="784.2" y="809.7" width="1.4" height="11.1" fill="#b98a90"/><rect x="786.7" y="809.7" width="1.4" height="11.1" fill="#b98a90"/><rect x="788.8" y="809.7" width="1.4" height="11.1" fill="#b98a90"/><rect x="790.5" y="809.7" width="1.4" height="11.1" fill="#b98a90"/><rect x="794.4" y="809.7" width="1.4" height="11.1" fill="#b98a90"/><rect x="796.9" y="809.7" width="1.4" height="11.1" fill="#b98a90"/><rect x="797.5" y="809.7" width="1.4" height="11.1" fill="#b98a90"/><rect x="800.8" y="809.7" width="1.4" height="11.1" fill="#b98a90"/><rect x="801.0" y="809.7" width="1.4" height="11.1" fill="#b98a90"/><rect x="806.7" y="809.7" width="1.4" height="11.1" fill="#b98a90"/><rect x="807.0" y="809.7" width="1.4" height="11.1" fill="#b98a90"/><rect x="809.8" y="809.7" width="1.4" height="11.1" fill="#b98a90"/><rect x="813.4" y="809.7" width="1.4" height="11.1" fill="#b98a90"/><rect x="816.0" y="809.7" width="1.4" height="11.1" fill="#b98a90"/><rect x="823.7" y="809.7" width="1.4" height="11.1" fill="#b98a90"/><rect x="836.1" y="809.7" width="1.4" height="11.1" fill="#b98a90"/><rect x="843.4" y="809.7" width="1.4" height="11.1" fill="#b98a90"/><rect x="853.7" y="809.7" width="1.4" height="11.1" fill="#b98a90"/><rect x="859.2" y="809.7" width="1.4" height="11.1" fill="#b98a90"/><rect x="861.4" y="809.7" width="1.4" height="11.1" fill="#b98a90"/></g>
<g><rect x="490.0" y="827.0" width="1.2" height="11.1" fill="#1c6be0" opacity="0.90"/><rect x="626.2" y="827.0" width="148.4" height="11.1" fill="#1c6be0" opacity="1.00"/><rect x="775.9" y="827.0" width="2.0" height="11.1" fill="#1c6be0" opacity="1.00"/><rect x="779.6" y="827.0" width="0.8" height="11.1" fill="#1c6be0" opacity="0.50"/><rect x="781.2" y="827.0" width="2.5" height="11.1" fill="#1c6be0" opacity="0.95"/><rect x="785.4" y="827.0" width="3.7" height="11.1" fill="#1c6be0" opacity="1.00"/><rect x="791.2" y="827.0" width="4.9" height="11.1" fill="#1c6be0" opacity="1.00"/><rect x="798.2" y="827.0" width="2.9" height="11.1" fill="#1c6be0" opacity="0.85"/><rect x="496.0" y="827.0" width="1.3" height="11.1" fill="#1c6be0" opacity="0.83"/><rect x="497.9" y="827.0" width="1.0" height="11.1" fill="#1c6be0" opacity="0.91"/><rect x="499.3" y="827.0" width="1.0" height="11.1" fill="#1c6be0" opacity="0.90"/><rect x="500.6" y="827.0" width="1.5" height="11.1" fill="#1c6be0" opacity="0.81"/><rect x="502.4" y="827.0" width="1.5" height="11.1" fill="#1c6be0" opacity="0.97"/><rect x="504.2" y="827.0" width="1.2" height="11.1" fill="#1c6be0" opacity="0.93"/><rect x="506.1" y="827.0" width="1.7" height="11.1" fill="#1c6be0" opacity="0.88"/><rect x="508.4" y="827.0" width="1.0" height="11.1" fill="#1c6be0" opacity="0.97"/><rect x="509.8" y="827.0" width="1.1" height="11.1" fill="#1c6be0" opacity="0.82"/><rect x="511.3" y="827.0" width="2.0" height="11.1" fill="#1c6be0" opacity="0.84"/><rect x="513.8" y="827.0" width="1.7" height="11.1" fill="#1c6be0" opacity="0.87"/><rect x="516.1" y="827.0" width="1.0" height="11.1" fill="#1c6be0" opacity="0.81"/><rect x="517.4" y="827.0" width="1.8" height="11.1" fill="#1c6be0" opacity="0.89"/><rect x="519.6" y="827.0" width="1.7" height="11.1" fill="#1c6be0" opacity="0.89"/><rect x="521.7" y="827.0" width="1.9" height="11.1" fill="#1c6be0" opacity="0.94"/><rect x="524.0" y="827.0" width="1.6" height="11.1" fill="#1c6be0" opacity="0.91"/><rect x="526.3" y="827.0" width="1.8" height="11.1" fill="#1c6be0" opacity="0.86"/><rect x="528.9" y="827.0" width="1.1" height="11.1" fill="#1c6be0" opacity="0.88"/><rect x="530.5" y="827.0" width="1.1" height="11.1" fill="#1c6be0" opacity="0.90"/><rect x="531.9" y="827.0" width="1.8" height="11.1" fill="#1c6be0" opacity="0.95"/><rect x="534.2" y="827.0" width="2.0" height="11.1" fill="#1c6be0" opacity="0.86"/><rect x="536.9" y="827.0" width="1.7" height="11.1" fill="#1c6be0" opacity="0.92"/><rect x="539.0" y="827.0" width="2.0" height="11.1" fill="#1c6be0" opacity="0.99"/><rect x="541.5" y="827.0" width="1.8" height="11.1" fill="#1c6be0" opacity="0.81"/><rect x="543.8" y="827.0" width="1.7" height="11.1" fill="#1c6be0" opacity="1.00"/><rect x="546.2" y="827.0" width="1.3" height="11.1" fill="#1c6be0" opacity="0.88"/><rect x="548.0" y="827.0" width="0.9" height="11.1" fill="#1c6be0" opacity="0.89"/><rect x="549.3" y="827.0" width="1.1" height="11.1" fill="#1c6be0" opacity="0.81"/><rect x="551.0" y="827.0" width="1.1" height="11.1" fill="#1c6be0" opacity="0.85"/><rect x="552.5" y="827.0" width="2.0" height="11.1" fill="#1c6be0" opacity="0.82"/><rect x="555.0" y="827.0" width="1.6" height="11.1" fill="#1c6be0" opacity="0.98"/><rect x="557.3" y="827.0" width="2.0" height="11.1" fill="#1c6be0" opacity="0.86"/><rect x="559.8" y="827.0" width="1.4" height="11.1" fill="#1c6be0" opacity="0.98"/><rect x="561.8" y="827.0" width="1.1" height="11.1" fill="#1c6be0" opacity="0.84"/><rect x="563.3" y="827.0" width="1.2" height="11.1" fill="#1c6be0" opacity="0.90"/><rect x="565.1" y="827.0" width="1.2" height="11.1" fill="#1c6be0" opacity="0.80"/><rect x="566.8" y="827.0" width="1.4" height="11.1" fill="#1c6be0" opacity="0.91"/><rect x="568.8" y="827.0" width="1.8" height="11.1" fill="#1c6be0" opacity="0.90"/><rect x="571.2" y="827.0" width="1.8" height="11.1" fill="#1c6be0" opacity="0.81"/><rect x="573.6" y="827.0" width="1.9" height="11.1" fill="#1c6be0" opacity="0.97"/><rect x="576.1" y="827.0" width="1.4" height="11.1" fill="#1c6be0" opacity="0.88"/><rect x="577.9" y="827.0" width="1.7" height="11.1" fill="#1c6be0" opacity="0.81"/><rect x="579.9" y="827.0" width="1.2" height="11.1" fill="#1c6be0" opacity="0.83"/><rect x="581.5" y="827.0" width="1.0" height="11.1" fill="#1c6be0" opacity="0.80"/><rect x="582.9" y="827.0" width="1.0" height="11.1" fill="#1c6be0" opacity="0.87"/><rect x="584.2" y="827.0" width="2.0" height="11.1" fill="#1c6be0" opacity="0.92"/><rect x="586.6" y="827.0" width="1.2" height="11.1" fill="#1c6be0" opacity="0.87"/><rect x="588.3" y="827.0" width="1.1" height="11.1" fill="#1c6be0" opacity="0.97"/><rect x="590.0" y="827.0" width="1.5" height="11.1" fill="#1c6be0" opacity="0.90"/><rect x="591.9" y="827.0" width="1.0" height="11.1" fill="#1c6be0" opacity="0.87"/><rect x="593.3" y="827.0" width="2.0" height="11.1" fill="#1c6be0" opacity="0.83"/><rect x="595.6" y="827.0" width="2.1" height="11.1" fill="#1c6be0" opacity="0.91"/><rect x="598.1" y="827.0" width="1.6" height="11.1" fill="#1c6be0" opacity="0.81"/><rect x="600.2" y="827.0" width="2.2" height="11.1" fill="#1c6be0" opacity="0.97"/><rect x="603.0" y="827.0" width="1.2" height="11.1" fill="#1c6be0" opacity="0.87"/><rect x="604.6" y="827.0" width="1.9" height="11.1" fill="#1c6be0" opacity="0.91"/><rect x="607.1" y="827.0" width="1.3" height="11.1" fill="#1c6be0" opacity="0.84"/><rect x="609.0" y="827.0" width="2.2" height="11.1" fill="#1c6be0" opacity="0.97"/><rect x="611.9" y="827.0" width="2.0" height="11.1" fill="#1c6be0" opacity="0.95"/><rect x="614.2" y="827.0" width="1.6" height="11.1" fill="#1c6be0" opacity="0.87"/><rect x="616.1" y="827.0" width="0.9" height="11.1" fill="#1c6be0" opacity="0.86"/><rect x="617.4" y="827.0" width="1.8" height="11.1" fill="#1c6be0" opacity="0.99"/><rect x="619.7" y="827.0" width="2.1" height="11.1" fill="#1c6be0" opacity="1.00"/><rect x="622.5" y="827.0" width="1.4" height="11.1" fill="#1c6be0" opacity="0.84"/><rect x="624.3" y="827.0" width="0.2" height="11.1" fill="#1c6be0" opacity="0.84"/><rect x="634.5" y="827.0" width="0.9" height="11.1" fill="#fff" opacity="0.55"/><rect x="636.5" y="827.0" width="0.9" height="11.1" fill="#fff" opacity="0.55"/><rect x="634.8" y="827.0" width="0.9" height="11.1" fill="#fff" opacity="0.55"/><rect x="636.9" y="827.0" width="0.9" height="11.1" fill="#fff" opacity="0.55"/><rect x="709.3" y="827.0" width="0.9" height="11.1" fill="#fff" opacity="0.55"/><rect x="721.2" y="827.0" width="0.9" height="11.1" fill="#fff" opacity="0.55"/><rect x="111.3" y="827.0" width="1.4" height="11.1" fill="#6f90ad"/><rect x="329.6" y="827.0" width="1.4" height="11.1" fill="#6f90ad"/><rect x="344.1" y="827.0" width="1.4" height="11.1" fill="#6f90ad"/><rect x="350.8" y="827.0" width="1.4" height="11.1" fill="#6f90ad"/><rect x="361.1" y="827.0" width="1.4" height="11.1" fill="#6f90ad"/><rect x="362.7" y="827.0" width="1.4" height="11.1" fill="#6f90ad"/><rect x="372.2" y="827.0" width="1.4" height="11.1" fill="#6f90ad"/><rect x="375.6" y="827.0" width="1.4" height="11.1" fill="#6f90ad"/><rect x="376.6" y="827.0" width="1.4" height="11.1" fill="#6f90ad"/><rect x="383.1" y="827.0" width="1.4" height="11.1" fill="#6f90ad"/><rect x="390.4" y="827.0" width="1.4" height="11.1" fill="#6f90ad"/><rect x="393.2" y="827.0" width="1.4" height="11.1" fill="#6f90ad"/><rect x="397.8" y="827.0" width="1.4" height="11.1" fill="#6f90ad"/><rect x="399.9" y="827.0" width="1.4" height="11.1" fill="#6f90ad"/><rect x="403.0" y="827.0" width="1.4" height="11.1" fill="#6f90ad"/><rect x="406.1" y="827.0" width="1.4" height="11.1" fill="#6f90ad"/><rect x="412.3" y="827.0" width="1.4" height="11.1" fill="#6f90ad"/><rect x="418.8" y="827.0" width="1.4" height="11.1" fill="#6f90ad"/><rect x="421.5" y="827.0" width="1.4" height="11.1" fill="#6f90ad"/><rect x="428.8" y="827.0" width="1.4" height="11.1" fill="#6f90ad"/><rect x="430.6" y="827.0" width="1.4" height="11.1" fill="#6f90ad"/><rect x="434.4" y="827.0" width="1.4" height="11.1" fill="#6f90ad"/><rect x="436.0" y="827.0" width="1.4" height="11.1" fill="#6f90ad"/><rect x="439.1" y="827.0" width="1.4" height="11.1" fill="#6f90ad"/><rect x="444.3" y="827.0" width="1.4" height="11.1" fill="#6f90ad"/><rect x="448.4" y="827.0" width="1.4" height="11.1" fill="#6f90ad"/><rect x="450.5" y="827.0" width="1.4" height="11.1" fill="#6f90ad"/><rect x="456.1" y="827.0" width="1.4" height="11.1" fill="#6f90ad"/><rect x="458.9" y="827.0" width="1.4" height="11.1" fill="#6f90ad"/><rect x="462.9" y="827.0" width="1.4" height="11.1" fill="#6f90ad"/><rect x="466.5" y="827.0" width="1.4" height="11.1" fill="#6f90ad"/><rect x="469.9" y="827.0" width="1.4" height="11.1" fill="#6f90ad"/><rect x="472.2" y="827.0" width="1.4" height="11.1" fill="#6f90ad"/><rect x="476.3" y="827.0" width="1.4" height="11.1" fill="#6f90ad"/><rect x="477.8" y="827.0" width="1.4" height="11.1" fill="#6f90ad"/><rect x="496.9" y="827.0" width="1.4" height="11.1" fill="#6f90ad"/><rect x="498.5" y="827.0" width="1.4" height="11.1" fill="#6f90ad"/><rect x="516.8" y="827.0" width="1.4" height="11.1" fill="#6f90ad"/><rect x="532.6" y="827.0" width="1.4" height="11.1" fill="#6f90ad"/><rect x="534.8" y="827.0" width="1.4" height="11.1" fill="#6f90ad"/><rect x="537.3" y="827.0" width="1.4" height="11.1" fill="#6f90ad"/><rect x="538.8" y="827.0" width="1.4" height="11.1" fill="#6f90ad"/><rect x="541.8" y="827.0" width="1.4" height="11.1" fill="#6f90ad"/><rect x="806.4" y="827.0" width="1.4" height="11.1" fill="#6f90ad"/><rect x="807.5" y="827.0" width="1.4" height="11.1" fill="#6f90ad"/><rect x="808.9" y="827.0" width="1.4" height="11.1" fill="#6f90ad"/><rect x="820.5" y="827.0" width="1.4" height="11.1" fill="#6f90ad"/><rect x="823.3" y="827.0" width="1.4" height="11.1" fill="#6f90ad"/><rect x="827.5" y="827.0" width="1.4" height="11.1" fill="#6f90ad"/><rect x="830.4" y="827.0" width="1.4" height="11.1" fill="#6f90ad"/><rect x="854.0" y="827.0" width="1.4" height="11.1" fill="#6f90ad"/><rect x="862.0" y="827.0" width="1.4" height="11.1" fill="#6f90ad"/><rect x="864.9" y="827.0" width="1.4" height="11.1" fill="#6f90ad"/></g>
<g><rect x="594.4" y="844.4" width="146.8" height="10.2" fill="#36ab6a" opacity="1.00"/><rect x="743.2" y="844.4" width="5.8" height="10.2" fill="#36ab6a" opacity="0.90"/><rect x="750.2" y="844.4" width="2.1" height="10.2" fill="#36ab6a" opacity="0.45"/><rect x="753.1" y="844.4" width="3.8" height="10.2" fill="#36ab6a" opacity="0.85"/><rect x="758.1" y="844.4" width="4.1" height="10.2" fill="#36ab6a" opacity="0.80"/><rect x="766.4" y="844.4" width="7.4" height="10.2" fill="#36ab6a" opacity="0.40"/><rect x="773.8" y="844.4" width="1.2" height="10.2" fill="#36ab6a" opacity="0.90"/><rect x="776.3" y="844.4" width="3.3" height="10.2" fill="#36ab6a" opacity="0.60"/><rect x="782.9" y="844.4" width="4.1" height="10.2" fill="#36ab6a" opacity="0.55"/><rect x="795.7" y="844.4" width="2.5" height="10.2" fill="#36ab6a" opacity="0.95"/><rect x="552.0" y="844.4" width="2.1" height="10.2" fill="#36ab6a" opacity="0.94"/><rect x="554.8" y="844.4" width="1.7" height="10.2" fill="#36ab6a" opacity="0.92"/><rect x="556.9" y="844.4" width="1.8" height="10.2" fill="#36ab6a" opacity="0.96"/><rect x="559.7" y="844.4" width="1.9" height="10.2" fill="#36ab6a" opacity="0.79"/><rect x="562.0" y="844.4" width="1.9" height="10.2" fill="#36ab6a" opacity="0.73"/><rect x="565.0" y="844.4" width="2.2" height="10.2" fill="#36ab6a" opacity="0.76"/><rect x="567.8" y="844.4" width="2.1" height="10.2" fill="#36ab6a" opacity="0.89"/><rect x="570.4" y="844.4" width="1.1" height="10.2" fill="#36ab6a" opacity="0.66"/><rect x="572.6" y="844.4" width="1.9" height="10.2" fill="#36ab6a" opacity="0.66"/><rect x="575.6" y="844.4" width="2.2" height="10.2" fill="#36ab6a" opacity="0.86"/><rect x="578.3" y="844.4" width="1.6" height="10.2" fill="#36ab6a" opacity="0.65"/><rect x="580.3" y="844.4" width="2.2" height="10.2" fill="#36ab6a" opacity="0.86"/><rect x="583.2" y="844.4" width="2.1" height="10.2" fill="#36ab6a" opacity="0.77"/><rect x="586.4" y="844.4" width="2.0" height="10.2" fill="#36ab6a" opacity="0.68"/><rect x="588.9" y="844.4" width="1.3" height="10.2" fill="#36ab6a" opacity="0.70"/><rect x="591.0" y="844.4" width="1.2" height="10.2" fill="#36ab6a" opacity="0.77"/><rect x="592.7" y="844.4" width="0.3" height="10.2" fill="#36ab6a" opacity="0.74"/><rect x="607.6" y="844.4" width="0.9" height="10.2" fill="#fff" opacity="0.55"/><rect x="615.9" y="844.4" width="0.9" height="10.2" fill="#fff" opacity="0.55"/><rect x="622.6" y="844.4" width="0.9" height="10.2" fill="#fff" opacity="0.55"/><rect x="635.5" y="844.4" width="0.9" height="10.2" fill="#fff" opacity="0.55"/><rect x="645.3" y="844.4" width="0.9" height="10.2" fill="#fff" opacity="0.55"/><rect x="646.9" y="844.4" width="0.9" height="10.2" fill="#fff" opacity="0.55"/><rect x="657.2" y="844.4" width="0.9" height="10.2" fill="#fff" opacity="0.55"/><rect x="667.0" y="844.4" width="0.9" height="10.2" fill="#fff" opacity="0.55"/><rect x="678.4" y="844.4" width="0.9" height="10.2" fill="#fff" opacity="0.55"/><rect x="741.3" y="844.4" width="0.9" height="10.2" fill="#fff" opacity="0.55"/><rect x="213.8" y="844.4" width="1.4" height="10.2" fill="#80aa98"/><rect x="381.1" y="844.4" width="1.4" height="10.2" fill="#80aa98"/><rect x="418.8" y="844.4" width="1.4" height="10.2" fill="#80aa98"/><rect x="432.4" y="844.4" width="1.4" height="10.2" fill="#80aa98"/><rect x="441.7" y="844.4" width="1.4" height="10.2" fill="#80aa98"/><rect x="451.0" y="844.4" width="1.4" height="10.2" fill="#80aa98"/><rect x="504.2" y="844.4" width="1.4" height="10.2" fill="#80aa98"/><rect x="518.7" y="844.4" width="1.4" height="10.2" fill="#80aa98"/><rect x="530.7" y="844.4" width="1.4" height="10.2" fill="#80aa98"/><rect x="537.7" y="844.4" width="1.4" height="10.2" fill="#80aa98"/><rect x="547.2" y="844.4" width="1.4" height="10.2" fill="#80aa98"/><rect x="551.0" y="844.4" width="1.4" height="10.2" fill="#80aa98"/><rect x="562.9" y="844.4" width="1.4" height="10.2" fill="#80aa98"/><rect x="577.8" y="844.4" width="1.4" height="10.2" fill="#80aa98"/><rect x="579.3" y="844.4" width="1.4" height="10.2" fill="#80aa98"/><rect x="762.8" y="844.4" width="1.4" height="10.2" fill="#80aa98"/><rect x="802.6" y="844.4" width="1.4" height="10.2" fill="#80aa98"/><rect x="802.8" y="844.4" width="1.4" height="10.2" fill="#80aa98"/><rect x="804.1" y="844.4" width="1.4" height="10.2" fill="#80aa98"/><rect x="813.4" y="844.4" width="1.4" height="10.2" fill="#80aa98"/><rect x="821.2" y="844.4" width="1.4" height="10.2" fill="#80aa98"/><rect x="827.2" y="844.4" width="1.4" height="10.2" fill="#80aa98"/><rect x="839.2" y="844.4" width="1.4" height="10.2" fill="#80aa98"/><rect x="846.8" y="844.4" width="1.4" height="10.2" fill="#80aa98"/><rect x="855.8" y="844.4" width="1.4" height="10.2" fill="#80aa98"/><rect x="866.9" y="844.4" width="1.4" height="10.2" fill="#80aa98"/></g>
<g stroke="#000" stroke-width="2.8" fill="none" stroke-linecap="square"><line x1="34" y1="9.2" x2="963.6" y2="9.2"/><line x1="963.6" y1="9.2" x2="963.6" y2="857.6"/><line x1="34" y1="9.2" x2="34" y2="857.6"/><line x1="34" y1="857.6" x2="963.6" y2="857.6"/><line x1="34" y1="788.8" x2="963.6" y2="788.8"/></g>
<g stroke="#000" stroke-width="3"><line x1="34.0" y1="857.6" x2="34.0" y2="872.0"/><line x1="117.0" y1="857.6" x2="117.0" y2="864.5"/><line x1="200.0" y1="857.6" x2="200.0" y2="872.0"/><line x1="283.0" y1="857.6" x2="283.0" y2="864.5"/><line x1="366.1" y1="857.6" x2="366.1" y2="872.0"/><line x1="449.1" y1="857.6" x2="449.1" y2="864.5"/><line x1="532.1" y1="857.6" x2="532.1" y2="872.0"/><line x1="615.1" y1="857.6" x2="615.1" y2="864.5"/><line x1="698.1" y1="857.6" x2="698.1" y2="872.0"/><line x1="781.1" y1="857.6" x2="781.1" y2="864.5"/><line x1="864.1" y1="857.6" x2="864.1" y2="872.0"/><line x1="947.1" y1="857.6" x2="947.1" y2="864.5"/></g>
<text x="34.0" y="907" font-size="32" text-anchor="middle">-200</text>
<text x="200.0" y="907" font-size="32" text-anchor="middle">-150</text>
<text x="366.1" y="907" font-size="32" text-anchor="middle">-100</text>
<text x="532.1" y="907" font-size="32" text-anchor="middle">-50</text>
<text x="698.1" y="907" font-size="32" text-anchor="middle">0</text>
<text x="864.1" y="907" font-size="32" text-anchor="middle">50</text>
<text x="469.5" y="963" font-size="39" text-anchor="middle">RD %</text>
<rect x="102" y="74.5" width="511" height="188" fill="#fff" stroke="#555" stroke-width="1.2"/>
<rect x="103" y="75.5" width="84.5" height="42" fill="#4f4f4f" stroke="#000" stroke-width="2.2"/>
<text x="199.6" y="110.8" font-size="39">Boruta-XGB-CNN-LSTM</text>
<rect x="103" y="123.9" width="84.5" height="42" fill="#f64444" stroke="#000" stroke-width="2.2"/>
<text x="199.6" y="158.5" font-size="39">Boruta-XGB-MLP</text>
<rect x="103" y="172.3" width="84.5" height="42" fill="#1c6be0" stroke="#000" stroke-width="2.2"/>
<text x="199.6" y="206.2" font-size="39">Boruta-XGB-KNN</text>
<rect x="103" y="220.7" width="84.5" height="42" fill="#36ab6a" stroke="#000" stroke-width="2.2"/>
<text x="199.6" y="253.9" font-size="39">Boruta-XGB-XGBoost</text>
<rect x="33.7" y="271.0" width="187.5" height="54.0" fill="#ffff00" stroke="#000" stroke-width="1.8"/>
<text x="40.0" y="310.5" font-size="38.6">IQR=5.333</text>
<rect x="33.7" y="420.5" width="208.0" height="53.5" fill="#ffff00" stroke="#000" stroke-width="1.8"/>
<text x="40.0" y="459.3" font-size="38.6">IQR=11.368</text>
<rect x="32.6" y="571.2" width="207.0" height="54.0" fill="#ffff00" stroke="#000" stroke-width="1.8"/>
<text x="37.9" y="611.2" font-size="38.6">IQR=28.051</text>
<rect x="35.3" y="736.3" width="206.6" height="52.8" fill="#ffff00" stroke="#000" stroke-width="1.8"/>
<text x="40.6" y="776.4" font-size="38.6">IQR=10.747</text>
</svg></body></html>
